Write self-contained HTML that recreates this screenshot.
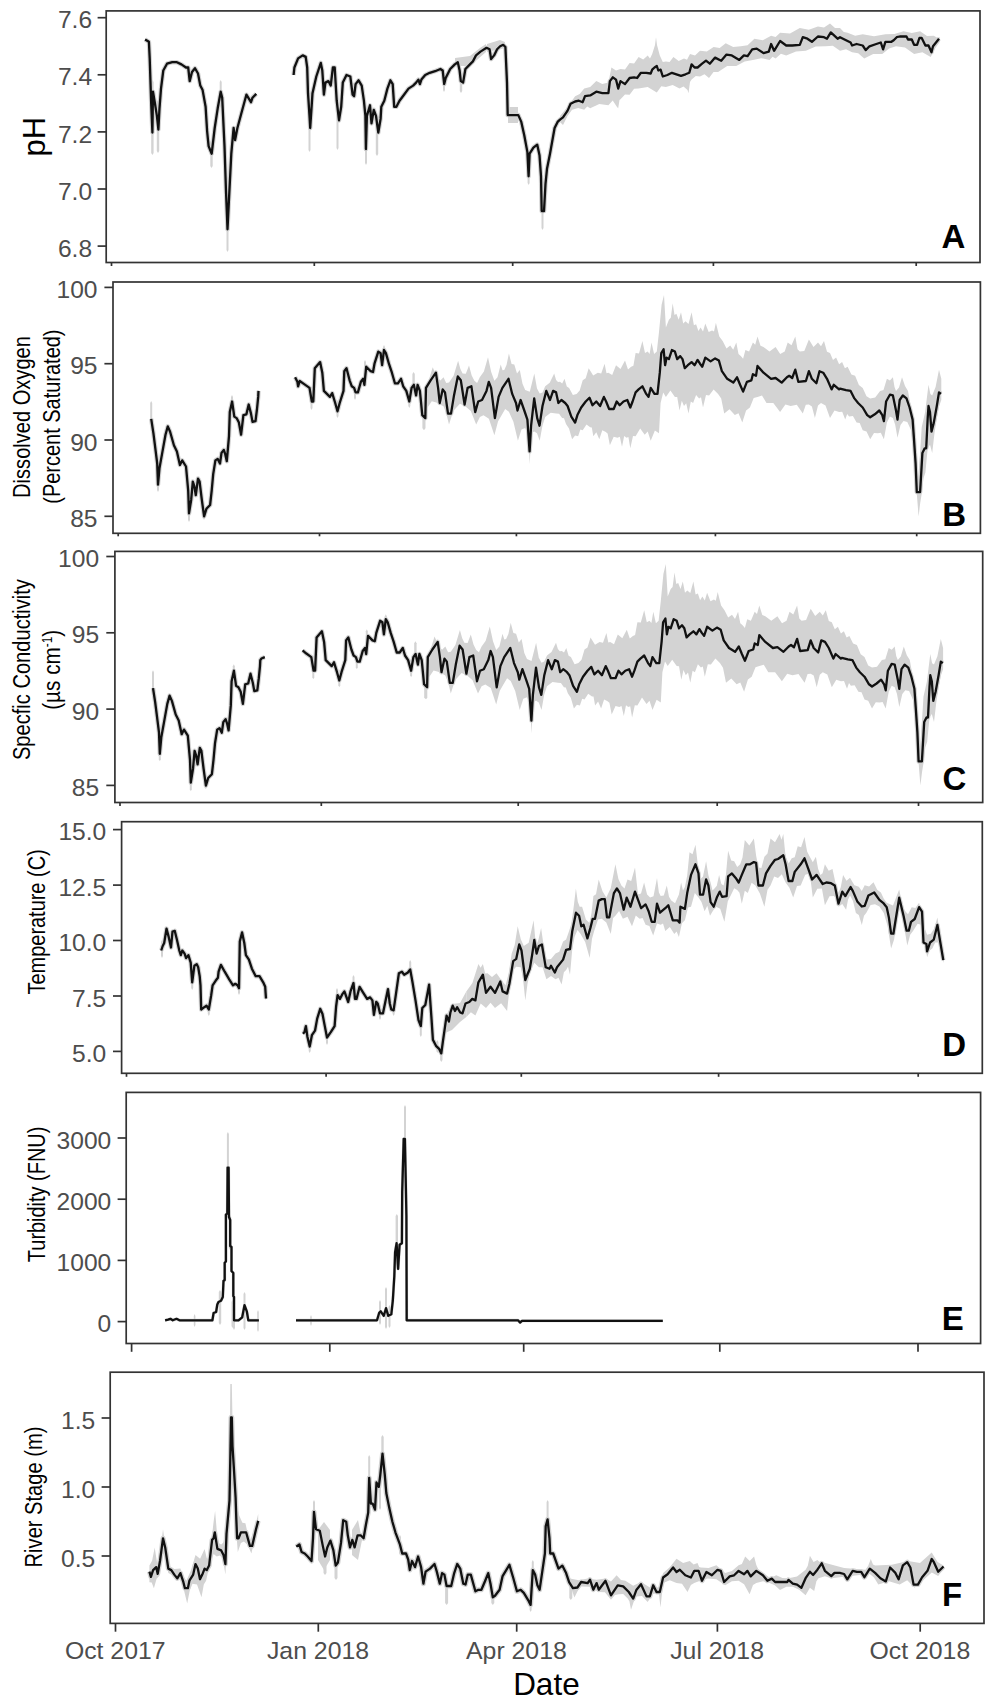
<!DOCTYPE html><html><head><meta charset="utf-8"><style>html,body{margin:0;padding:0;background:#fff;}svg{display:block;}text{font-family:"Liberation Sans", sans-serif;}</style></head><body>
<svg width="992" height="1708" viewBox="0 0 992 1708">
<rect x="0" y="0" width="992" height="1708" fill="#fff"/>
<polygon fill="#d3d3d3" points="560,116 567.5,107 575.1,96.2 579.7,94.1 584.2,88.6 590.2,87 596.3,81.1 602.3,84.1 608.4,82.6 611.4,67.5 616,70.5 620.5,69 625,69.6 629.6,62.9 634.1,63.4 638.6,56.9 643.2,59.5 647.7,55.4 650,58.4 652.2,53.9 655,45 656,37.2 657,45 659.8,55.4 662.8,62 665.9,61.4 669.6,62.1 673.4,56.9 678.7,61.1 684,58.4 687,59.7 690,53.9 695,55.4 700,50.8 706.8,51.4 713.6,47 719.7,48.1 725.7,43.3 733.2,47.1 740.8,46.3 747.6,45.2 754.4,38.7 762.8,40.3 771.1,35.7 775.6,37 780.1,32.7 790,33.4 799.8,28.1 808.8,29.8 817.9,26.6 824,27.5 830,23.6 835,27.9 840,28.1 843.8,32.1 847.6,32.7 855.2,35.7 862.7,34.2 874,36.3 885.4,34.2 894.5,34.1 903.5,31.2 911.8,32.9 920.1,31.2 927,35.9 933.8,35.7 936.8,37.5 939.8,37.2 939.8,41.8 935.2,48.2 930.7,56.9 922.4,52.2 914.1,53.9 905,47.4 896,46.3 889.1,48.4 882.3,53.9 873.2,53.9 864.2,58.4 858.2,53.2 852.1,52.3 846,49.3 840,50.8 832.8,45.7 825.5,46.3 815.7,46.5 805.9,50.8 796,51.5 786.2,55.4 780.9,53.8 775.6,58.4 772.6,56.8 769.6,59.9 761.2,58.2 752.9,59.9 744.6,61.5 736.3,66 727.2,66.1 718.1,72 713.5,71.9 709,78 704.5,74.2 700,76.5 695.8,75.9 691.6,79.6 690,82 688.5,93.2 687.5,90 683.5,86.4 679.5,88.6 672.7,84.9 665.9,87.1 661.3,86.2 656.8,92.4 647.7,87 638.6,88.6 634.1,88.8 629.6,94.7 625,94.4 620.5,99.2 619.5,100 618.2,108.3 617,107 612.7,100.4 608.4,105.3 599.3,103.9 590.2,108.3 587.2,106.4 584.2,109.8 578.2,108 572.1,109.8 567.5,116 563,124.9 560,122"/>
<polygon fill="#d3d3d3" points="508,107 518,107 518,123 508,123"/>
<polygon fill="#d3d3d3" points="487,44 500,40 505,42 505,48 487,52"/>
<polygon fill="#d3d3d3" points="455,58 470,56 480,48 486,44 486,52 470,66 455,66"/>
<polygon fill="#d3d3d3" points="152.4,80 153.6,82 153.6,153 152.4,155 151.2,153 151.2,82"/>
<polygon fill="#d3d3d3" points="158,100 159.2,102 159.2,151 158,153 156.8,151 156.8,102"/>
<polygon fill="#d3d3d3" points="211.5,140 212.7,142 212.7,166 211.5,168 210.3,166 210.3,142"/>
<polygon fill="#d3d3d3" points="227.5,190 228.5,192 228.5,250 227.5,252 226.5,250 226.5,192"/>
<polygon fill="#d3d3d3" points="233,130 234,132 234,146 233,148 232,146 232,132"/>
<polygon fill="#d3d3d3" points="220.7,80 221.7,82 221.7,93 220.7,95 219.7,93 219.7,82"/>
<polygon fill="#d3d3d3" points="309.5,110 310.5,112 310.5,150 309.5,152 308.5,150 308.5,112"/>
<polygon fill="#d3d3d3" points="337.5,110 338.5,112 338.5,148 337.5,150 336.5,148 336.5,112"/>
<polygon fill="#d3d3d3" points="366,140 367,142 367,163 366,165 365,163 365,142"/>
<polygon fill="#d3d3d3" points="377,120 378.2,122 378.2,154 377,156 375.8,154 375.8,122"/>
<polygon fill="#d3d3d3" points="444,80 445,82 445,90 444,92 443,90 443,82"/>
<polygon fill="#d3d3d3" points="461,75 462.2,77 462.2,91 461,93 459.8,91 459.8,77"/>
<polygon fill="#d3d3d3" points="528.6,160 529.6,162 529.6,183 528.6,185 527.6,183 527.6,162"/>
<polygon fill="#d3d3d3" points="542.5,200 543.5,202 543.5,228 542.5,230 541.5,228 541.5,202"/>
<polyline fill="none" stroke="#d3d3d3" stroke-width="4.5" stroke-linejoin="round" points="145.1,39.5 148.9,41.8 149.7,58.4 151.2,103.8 152.4,132.5 153,91.7 155,103.8 156.9,115.9 158.4,129.5 159.5,108.3 161,88.6 163.3,70.5 167,63.7 172.3,62.2 176.9,62.2 181.4,64.4 186,67.5 188.2,67.5 189.7,81.1 192,72 195,68.2 198,73.5 200.3,85.6 202.6,90.1 205.6,106.8 207.1,131 208.6,146.1 211.7,153.7 214.7,128 217.7,108.3 220.7,91.7 222.2,97.7 224.5,146.1 226,191.5 227.5,229.3 229,199 231.3,153.7 233.6,128 235.1,140 237.4,128 241.9,111.3 246.4,94.7 251,102.2 252.5,97.7 256.3,93.9"/>
<polyline fill="none" stroke="#d3d3d3" stroke-width="4.5" stroke-linejoin="round" points="293.6,75 294.4,67.5 298.1,58.4 302.7,55.4 305.7,56.9 307.2,67.5 308,93.2 309.5,115.9 310.2,128 311.5,108.3 312.5,93.2 316.3,76.5 320.8,62.9 322.3,70.5 323.9,94.7 325.4,82.6 328.4,81.1 330.7,85.6 332.9,67.5 334.7,67.5 336.7,100.7 339,120.4 341.2,106.8 342.8,82.6 346.5,75 350.3,76.5 352.6,94.7 354.1,96.2 355.6,84.1 358.6,80.3 361.7,85.6 363.9,100.7 365.4,115.9 365.9,149.1 366.9,115.9 370,105.3 371.5,123.4 373.8,109.8 376,115.9 378.3,132.5 380.6,118.9 381.3,106.8 384.3,100.7 387.4,88.6 390.4,80.3 392.7,84.1 394.2,106.8 396.4,106.8 399.5,100.7 404,94.7 408.5,88.6 413.1,85.6 416.1,82.6 418.4,79.6 419.9,84.1 421.4,79.6 425.2,75 429.7,72.8 435.1,71.2 440.4,69 442.7,70.5 444.2,84.1 445.7,78 450.2,69 454.8,64.4 457.8,62.2 459.6,70.5 460.8,81.1 463.1,82.6 465.4,69 469.9,64.4 472.9,61.4 476,55.4 480.5,51.6 486.5,47.8 489.6,49.3 491.1,59.1 494.1,55.4 497.1,49.3 500.1,46.3 503.2,44.8 505.4,47 507,82.6 507.7,115.1 518.3,115.1 521.3,121.9 524.3,135.5 527.4,152.1 528.6,176.3 529.6,153.7 533.4,147.6 537.2,144.6 539.5,155.2 541,176.3 541.7,211.1 544,211.1 545.5,183.9 547,168.8 550,153.7 554.6,128 557.6,121.9 560,119.6 563,117.4 567.6,110.6 570.6,103.8 575.1,101.5 578.9,100.7 582.7,102.2 585,96.2 590.2,95.4 596.3,91.7 602.3,93.2 608.4,93.2 609.9,81.1 612.9,77.3 616,79.6 618.2,88.6 620.5,81.1 625,84.1 629.6,78 634.1,77.3 637.1,78 640.9,72.8 646.2,72.8 650.7,73.5 652.2,69.7 654.5,67.5 656.8,66 658.3,70.5 660.6,69.7 662.8,76.5 667.4,75 671.9,72.8 676.4,74.3 681,75.8 685.5,74.3 689.3,72.8 691.6,64.4 694.6,67.5 697.6,67.5 702.1,63.7 706,60.7 709.8,63.7 715.1,57.6 721.2,60.7 726.5,54.6 731.8,55.4 739.3,59.9 743.9,55.4 747.6,56.1 752.2,49.3 756.7,48.6 763.5,53.1 768.8,51.6 771.1,44 774.1,50.8 780.1,41 786.2,45.5 792.2,45.5 799.8,44.8 802.8,37.2 807.4,38.7 811.9,41.8 817.9,36.5 824,37.2 827,38.7 830.8,32.4 837.6,38.7 840,37.2 844.5,39.5 850.6,42.5 852.1,45.5 856.6,44 862.7,45.5 865.7,50.1 869.5,46.3 876.3,44 880.8,42.5 883.1,49.3 885.4,41.8 891.4,41.8 893.7,40.2 896.7,37.2 899.7,36.5 906.5,36.5 908,39.5 911.8,39.5 914.1,44.8 917.1,44.8 919.4,38 921.7,38 925.4,45.5 928.5,45.5 931.5,52.3 933,46.3 939,38.7"/>
<polyline fill="none" stroke="#111" stroke-width="2.3" stroke-linejoin="round" points="145.1,39.5 148.9,41.8 149.7,58.4 151.2,103.8 152.4,132.5 153,91.7 155,103.8 156.9,115.9 158.4,129.5 159.5,108.3 161,88.6 163.3,70.5 167,63.7 172.3,62.2 176.9,62.2 181.4,64.4 186,67.5 188.2,67.5 189.7,81.1 192,72 195,68.2 198,73.5 200.3,85.6 202.6,90.1 205.6,106.8 207.1,131 208.6,146.1 211.7,153.7 214.7,128 217.7,108.3 220.7,91.7 222.2,97.7 224.5,146.1 226,191.5 227.5,229.3 229,199 231.3,153.7 233.6,128 235.1,140 237.4,128 241.9,111.3 246.4,94.7 251,102.2 252.5,97.7 256.3,93.9"/>
<polyline fill="none" stroke="#111" stroke-width="2.3" stroke-linejoin="round" points="293.6,75 294.4,67.5 298.1,58.4 302.7,55.4 305.7,56.9 307.2,67.5 308,93.2 309.5,115.9 310.2,128 311.5,108.3 312.5,93.2 316.3,76.5 320.8,62.9 322.3,70.5 323.9,94.7 325.4,82.6 328.4,81.1 330.7,85.6 332.9,67.5 334.7,67.5 336.7,100.7 339,120.4 341.2,106.8 342.8,82.6 346.5,75 350.3,76.5 352.6,94.7 354.1,96.2 355.6,84.1 358.6,80.3 361.7,85.6 363.9,100.7 365.4,115.9 365.9,149.1 366.9,115.9 370,105.3 371.5,123.4 373.8,109.8 376,115.9 378.3,132.5 380.6,118.9 381.3,106.8 384.3,100.7 387.4,88.6 390.4,80.3 392.7,84.1 394.2,106.8 396.4,106.8 399.5,100.7 404,94.7 408.5,88.6 413.1,85.6 416.1,82.6 418.4,79.6 419.9,84.1 421.4,79.6 425.2,75 429.7,72.8 435.1,71.2 440.4,69 442.7,70.5 444.2,84.1 445.7,78 450.2,69 454.8,64.4 457.8,62.2 459.6,70.5 460.8,81.1 463.1,82.6 465.4,69 469.9,64.4 472.9,61.4 476,55.4 480.5,51.6 486.5,47.8 489.6,49.3 491.1,59.1 494.1,55.4 497.1,49.3 500.1,46.3 503.2,44.8 505.4,47 507,82.6 507.7,115.1 518.3,115.1 521.3,121.9 524.3,135.5 527.4,152.1 528.6,176.3 529.6,153.7 533.4,147.6 537.2,144.6 539.5,155.2 541,176.3 541.7,211.1 544,211.1 545.5,183.9 547,168.8 550,153.7 554.6,128 557.6,121.9 560,119.6 563,117.4 567.6,110.6 570.6,103.8 575.1,101.5 578.9,100.7 582.7,102.2 585,96.2 590.2,95.4 596.3,91.7 602.3,93.2 608.4,93.2 609.9,81.1 612.9,77.3 616,79.6 618.2,88.6 620.5,81.1 625,84.1 629.6,78 634.1,77.3 637.1,78 640.9,72.8 646.2,72.8 650.7,73.5 652.2,69.7 654.5,67.5 656.8,66 658.3,70.5 660.6,69.7 662.8,76.5 667.4,75 671.9,72.8 676.4,74.3 681,75.8 685.5,74.3 689.3,72.8 691.6,64.4 694.6,67.5 697.6,67.5 702.1,63.7 706,60.7 709.8,63.7 715.1,57.6 721.2,60.7 726.5,54.6 731.8,55.4 739.3,59.9 743.9,55.4 747.6,56.1 752.2,49.3 756.7,48.6 763.5,53.1 768.8,51.6 771.1,44 774.1,50.8 780.1,41 786.2,45.5 792.2,45.5 799.8,44.8 802.8,37.2 807.4,38.7 811.9,41.8 817.9,36.5 824,37.2 827,38.7 830.8,32.4 837.6,38.7 840,37.2 844.5,39.5 850.6,42.5 852.1,45.5 856.6,44 862.7,45.5 865.7,50.1 869.5,46.3 876.3,44 880.8,42.5 883.1,49.3 885.4,41.8 891.4,41.8 893.7,40.2 896.7,37.2 899.7,36.5 906.5,36.5 908,39.5 911.8,39.5 914.1,44.8 917.1,44.8 919.4,38 921.7,38 925.4,45.5 928.5,45.5 931.5,52.3 933,46.3 939,38.7"/>
<rect x="106.2" y="10.9" width="873.8" height="251.6" fill="none" stroke="#333" stroke-width="1.7"/>
<line x1="97.6" y1="17.7" x2="106.2" y2="17.7" stroke="#333" stroke-width="1.7"/>
<text x="92.1" y="28.3" font-size="24.6" fill="#4d4d4d" text-anchor="end">7.6</text>
<line x1="97.6" y1="74.8" x2="106.2" y2="74.8" stroke="#333" stroke-width="1.7"/>
<text x="92.1" y="85.4" font-size="24.6" fill="#4d4d4d" text-anchor="end">7.4</text>
<line x1="97.6" y1="131.9" x2="106.2" y2="131.9" stroke="#333" stroke-width="1.7"/>
<text x="92.1" y="142.5" font-size="24.6" fill="#4d4d4d" text-anchor="end">7.2</text>
<line x1="97.6" y1="189" x2="106.2" y2="189" stroke="#333" stroke-width="1.7"/>
<text x="92.1" y="199.6" font-size="24.6" fill="#4d4d4d" text-anchor="end">7.0</text>
<line x1="97.6" y1="246.1" x2="106.2" y2="246.1" stroke="#333" stroke-width="1.7"/>
<text x="92.1" y="256.7" font-size="24.6" fill="#4d4d4d" text-anchor="end">6.8</text>
<line x1="111.5" y1="262.5" x2="111.5" y2="266" stroke="#333" stroke-width="1.7"/>
<line x1="314.3" y1="262.5" x2="314.3" y2="266" stroke="#333" stroke-width="1.7"/>
<line x1="512.7" y1="262.5" x2="512.7" y2="266" stroke="#333" stroke-width="1.7"/>
<line x1="713.4" y1="262.5" x2="713.4" y2="266" stroke="#333" stroke-width="1.7"/>
<line x1="916.2" y1="262.5" x2="916.2" y2="266" stroke="#333" stroke-width="1.7"/>
<text x="941.4" y="248" font-size="33" font-weight="bold" fill="#000">A</text>
<polygon fill="#d3d3d3" points="427.2,384.4 429.9,376.4 432.7,367.2 434.9,372.2 437.2,377.2 440.4,380.6 443.5,377.2 446.2,383.1 449,382.6 453.6,375.7 458.1,360.8 460.4,369 462.6,373.5 465.8,373.7 469,365.4 471.7,375.4 474.4,380.8 477.1,383 479.8,377.2 483.9,371.5 488,357.2 491.2,372 494.4,380.8 497.5,377.2 500.7,364.5 502.5,370.3 504.3,369.9 506.6,364.7 508.9,353.6 511.6,363.9 514.3,364.5 517,373.4 519.8,369.9 522.5,383.7 525.2,389.9 529.8,391.8 534.3,373.5 537,388.5 539.7,393.5 542.5,392.4 545.2,386.3 549.7,382.8 554.2,373.5 556.1,379.9 558,382 560,381.8 562.2,383.4 564.5,378.8 566.8,386.6 569.1,387.9 572.9,395.1 576.6,393.9 579.7,390.6 582.7,380.3 585.7,378.3 588.7,368.2 593.2,375.6 597.8,372.7 601.2,373.5 604.6,363.7 606.5,373.3 608.4,372.7 612.2,375 616,365.2 620.5,369.1 625,360.6 628,369.4 631.1,366.7 633.4,365.8 635.6,353.1 639,353.4 642.4,341 645,353.1 647.7,351.6 649.6,353.9 651.5,342.5 654.1,354 656.8,351.6 659,331.9 661.6,304.7 664,294.9 665.9,327.4 668.9,319.8 670.8,317.8 672.7,303.2 674.5,314.9 676.4,313.8 678.7,319.7 681,312.2 683.2,323.5 685.5,321.3 688.5,323.9 691.6,312.2 693.9,325.2 696.1,324.3 698.4,331.1 700.6,327.4 703,331.4 705.3,323.6 708.7,332 712.1,330.4 714,331.5 715.9,322.8 719.3,336.4 722.7,341 726.5,348.4 730.2,345.5 733.2,349.8 736.3,342.5 738.5,354.1 740.8,356.1 743.1,358.8 745.4,350 749.1,351.5 752.9,342.5 755.2,344.8 757.5,336.4 760.5,345.8 763.5,347 769.5,351.6 775.6,347 780.2,354.1 784.7,351.6 787.7,342.5 791.5,345.2 795.3,336.4 797.5,349.2 799.8,351.6 804.3,350.9 808.9,339.5 813.5,346.9 818,342.5 821,346.3 824,341 827,351.8 830,353.1 833,360 836.1,357.6 839.1,364.3 842.1,362.1 844.9,368.2 847.6,366.7 851.4,374.4 855.1,375.8 858.9,385.1 862.7,387.9 866.5,396.3 870.2,398.4 875.2,397.6 880.1,390.9 883.5,390.1 886.9,378.8 889.9,380.5 892.9,377.3 894.5,386.9 896,390.9 899,387.4 902,377.3 905,386.1 908,390.9 910.3,404.1 912.6,415.1 914.9,452.9 917.1,490.7 919.4,463.9 921.7,427.2 925.1,412.3 928.5,384.8 930.4,394.1 932.2,395.4 935.6,387.1 939,369.7 941.3,378.8 941.3,400 939,406.6 936.8,418.1 934.5,433 932.2,452.9 930,444.8 927.7,448.3 925.4,472.5 923.5,478.2 921.7,493.7 920.2,503 918.6,516.4 915.6,478.6 913.4,450.8 911.1,430.2 907.3,421.9 903.5,421.1 900.5,424.9 897.5,437.8 895.2,424.7 892.9,418.1 889.9,416.5 886.9,422.6 883.9,439.3 880.8,432.7 877.8,433.2 874,433 870.2,439.3 866.5,431.6 862.7,430.2 859.7,423.1 856.6,422.6 852.9,416 849.1,416.6 847.2,413.9 845.2,419.6 842.2,411.8 839.1,412 834.5,410.6 830,418.1 825.5,405.4 821,403 818,405.6 814.9,418.1 811.9,406.4 808.9,404.5 805.8,404.8 802.8,413.6 796.8,404.7 790.7,406 785.4,404.5 780.1,412 773.3,403.1 766.5,403 762,395.6 757.5,396.9 753.7,398.1 749.9,407.5 746.1,410.4 742.3,422.6 738.5,413.2 734.8,415.1 729.5,409.2 724.2,413.6 721.2,398.5 718.1,393.9 713.6,389.4 709.1,395.4 706,395 703,407.5 701,397.3 699.1,398.4 696.1,395 693.1,403 690.8,401.5 688.5,413.6 686.2,403.3 684,406 681.8,400.7 679.5,410.5 677.2,397 674.9,396.9 670.4,390.5 665.9,396.9 663.2,392.4 660.6,403 659,433.2 654.9,430.5 650.7,440.8 647.7,431.5 644.7,434.7 640.2,428.4 635.6,436.2 633,436 630.3,448.3 628.4,437 626.5,437.8 624.2,436.1 622,446.8 619.8,436.7 617.5,437.8 613.7,436.7 609.9,445.3 607.6,433.5 605.4,431.7 602.3,430.3 599.3,439.3 596.3,432.3 593.3,436.2 591.8,427.4 590.2,427.2 586.5,424.5 582.7,430.2 580.4,429.6 578.1,436.2 575.1,435.5 572.1,439.3 569,428.5 566,424.1 564,418.2 562.1,418.1 559.1,413.8 556.1,413.5 550.7,412.7 545.2,417.1 542.5,425.5 539.7,440.7 537,433.2 534.3,431.6 532.6,432.2 531,440 529.7,464.3 528.5,440 526.9,431.6 525.2,428 521.5,429.6 517.9,440.7 513.4,421.8 508.9,411.7 505.2,409 501.6,415.3 498,421.5 494.4,435.2 488.9,418.8 483.5,415.3 479.9,417 476.2,424.4 470.8,411 465.3,406.2 459.9,403.7 454.4,409.8 451.7,415.9 449,424.4 446.2,413.2 443.5,406.2 439.9,404.4 436.3,402.6 431.8,401.3 427.2,408"/>
<polygon fill="#d3d3d3" points="151.2,401 152.2,403 152.2,423 151.2,425 150.2,423 150.2,403"/>
<polygon fill="#d3d3d3" points="158,470 159,472 159,490 158,492 157,490 157,472"/>
<polygon fill="#d3d3d3" points="189,500 190,502 190,520 189,522 188,520 188,502"/>
<polygon fill="#d3d3d3" points="204,505 205,507 205,518 204,520 203,518 203,507"/>
<polygon fill="#d3d3d3" points="232,395 233,397 233,408 232,410 231,408 231,397"/>
<polygon fill="#d3d3d3" points="311.5,395 312.5,397 312.5,408 311.5,410 310.5,408 310.5,397"/>
<polygon fill="#d3d3d3" points="337.5,400 338.5,402 338.5,416 337.5,418 336.5,416 336.5,402"/>
<polygon fill="#d3d3d3" points="365,360 366,362 366,370 365,372 364,370 364,362"/>
<polygon fill="#d3d3d3" points="384,345 385,347 385,358 384,360 383,358 383,347"/>
<polygon fill="#d3d3d3" points="409.3,390 410.3,392 410.3,406 409.3,408 408.3,406 408.3,392"/>
<polygon fill="#d3d3d3" points="424.5,405 425.5,407 425.5,428 424.5,430 423.5,428 423.5,407"/>
<polygon fill="#d3d3d3" points="355,385 356,387 356,398 355,400 354,398 354,387"/>
<polygon fill="#d3d3d3" points="413.6,372 414.8,374 414.8,384 413.6,386 412.4,384 412.4,374"/>
<polygon fill="#d3d3d3" points="423.6,412 424.8,414 424.8,428 423.6,430 422.4,428 422.4,414"/>
<polyline fill="none" stroke="#d3d3d3" stroke-width="4.5" stroke-linejoin="round" points="151.2,418.9 153.4,433.2 155.7,451.4 157.2,463.5 158,484.6 159.5,468 162.5,451.4 165.5,434.7 167.8,426.4 170.1,431.7 173.9,445.3 176.9,451.4 179.9,465 182.2,460.4 186,466.5 188.2,490.7 189,513.4 191.2,499.7 192.8,481.6 194.3,486.1 195.8,495.2 198,478.6 199.6,481.6 201.8,499.7 204.1,516.4 206.4,508.8 210.1,505 211.7,490.7 213.2,474.1 215.4,460.4 217.7,458.9 220,463.5 221.5,452.9 223.8,449.9 225.3,454.4 226.8,461.2 229,436.2 229.8,412 232.1,401.5 234.3,416.6 236.6,418.1 238.9,422.6 241.1,434.7 243.4,415.1 246.4,414.3 248.7,404.5 251,413.6 252.5,421.9 255.5,421.1 257,409 258.2,396.9 258.5,390.9"/>
<polyline fill="none" stroke="#d3d3d3" stroke-width="4.5" stroke-linejoin="round" points="295.1,377.3 297.4,381.8 298.1,386.3 299.7,381 304.2,384.1 309.5,387.9 311.8,401.5 313.3,401.5 314.8,368.2 320.1,362.1 322.3,372.7 323.9,390.9 326.9,393.9 329.9,396.9 332.2,393.1 335.2,403 337.5,411.3 339.7,403 343.5,390.9 344.3,371.2 346.5,368.2 349.6,380.3 351.8,386.3 354.1,387.9 355.6,392.4 357.9,392.4 360.9,381.8 363.2,378.8 364.4,384.8 366.2,366.7 370.7,371.2 373,372 374.5,363.7 378.3,351.6 380.6,353.1 382.1,365.2 384,350 385.9,353.1 388.9,363.7 391.9,372.7 394.9,383.3 397.9,383.3 401,378.8 403.2,386.3 406.3,390.9 409.3,401.5 411.6,387.9 413.8,384.8 416.1,395.4 417.6,384.8 419.9,390.9 422.3,415.1 425.3,418.1 426,387.9 430.6,380.3 435.9,372.7 438.1,387.9 439.7,403 442.7,389.4 445,392.4 448,413.6 451,413.6 454,395.4 457.8,376.5 460.8,380.3 464.6,404.5 467.6,387.9 471.4,386.3 475.2,412.1 478.2,401.5 482,400 486.5,390.9 488.8,381.8 491.1,387.9 494.9,418.1 498.6,396.9 502.4,387.9 508.5,378.8 512.2,393.9 516,403 517.5,410.5 520.6,400 524.3,410.5 527.4,419.6 529.6,451.4 531.1,425.7 534.2,398.4 537.2,418.1 539.5,425.7 542.5,406 546.3,390.9 550,400 553.1,390.9 556.1,392.4 558.4,403 561.4,400 565.2,403 567.6,406 571.3,416.6 575.1,422.6 577.4,415.1 581.2,407.5 585.7,401.5 589.5,397.7 592.5,405.2 596.3,401.5 600.1,406 603.9,396.9 606.1,401.5 609.1,409 613.7,409 616.7,401.5 619.7,405.2 623.5,401.5 627.3,400 630.3,407.5 632.6,401.5 635.6,392.4 638.6,389.4 642.4,386.3 646.2,393.9 648.5,396.9 650.7,387.9 654.5,393.9 657.5,393.9 659.8,372.7 661.3,353.1 663.6,349.3 665.1,365.2 666.6,357.6 668.9,359.1 671.9,350 674.9,351.6 677.2,359.1 680.2,356.1 682.5,359.1 684.8,368.2 687.8,365.2 691.6,362.1 694.6,365.2 697.6,359.9 700,363.7 702.3,366.7 705.3,357.6 710.6,361.4 715.1,358.4 718.9,360.6 721.9,371.2 727.2,378.8 733.3,382.6 737,377.3 740.1,384.8 743.1,391.6 746.9,381.8 751.4,380.3 752.9,374.2 756,375.8 757.5,365.9 763.5,372.7 771.1,378.8 775.6,378 781.7,382.6 786.9,377.3 789.2,375.8 792.2,378 795.3,369.7 798.3,381.8 805.9,381 808.9,371.2 811.9,378.8 816.4,383.3 819.5,371.2 823.2,372.7 827,378.8 831.6,389.4 833.8,384.8 839.1,389.4 840,388.6 846,390.1 850.6,390.9 854.4,398.4 858.1,403 862.7,407.5 867.2,415.1 870.2,417.3 874.8,414.3 879.3,410.5 882.3,415.1 883.9,421.1 886.1,401.5 889.9,394.7 892.9,395.4 896,410.5 897.5,419.6 899.7,400 902.8,395.4 906.5,398.4 909.6,407.5 912.6,419.6 914.1,440.8 915.6,463.5 916.8,492.2 920.1,492.2 920.9,478.6 922.4,452.9 924.7,448.3 926.2,448.3 927.7,418.1 928.5,406 930,412 931.5,431.7 933.8,422.6 936.8,406 939,392.4 941,393.9"/>
<polyline fill="none" stroke="#111" stroke-width="2.3" stroke-linejoin="round" points="151.2,418.9 153.4,433.2 155.7,451.4 157.2,463.5 158,484.6 159.5,468 162.5,451.4 165.5,434.7 167.8,426.4 170.1,431.7 173.9,445.3 176.9,451.4 179.9,465 182.2,460.4 186,466.5 188.2,490.7 189,513.4 191.2,499.7 192.8,481.6 194.3,486.1 195.8,495.2 198,478.6 199.6,481.6 201.8,499.7 204.1,516.4 206.4,508.8 210.1,505 211.7,490.7 213.2,474.1 215.4,460.4 217.7,458.9 220,463.5 221.5,452.9 223.8,449.9 225.3,454.4 226.8,461.2 229,436.2 229.8,412 232.1,401.5 234.3,416.6 236.6,418.1 238.9,422.6 241.1,434.7 243.4,415.1 246.4,414.3 248.7,404.5 251,413.6 252.5,421.9 255.5,421.1 257,409 258.2,396.9 258.5,390.9"/>
<polyline fill="none" stroke="#111" stroke-width="2.3" stroke-linejoin="round" points="295.1,377.3 297.4,381.8 298.1,386.3 299.7,381 304.2,384.1 309.5,387.9 311.8,401.5 313.3,401.5 314.8,368.2 320.1,362.1 322.3,372.7 323.9,390.9 326.9,393.9 329.9,396.9 332.2,393.1 335.2,403 337.5,411.3 339.7,403 343.5,390.9 344.3,371.2 346.5,368.2 349.6,380.3 351.8,386.3 354.1,387.9 355.6,392.4 357.9,392.4 360.9,381.8 363.2,378.8 364.4,384.8 366.2,366.7 370.7,371.2 373,372 374.5,363.7 378.3,351.6 380.6,353.1 382.1,365.2 384,350 385.9,353.1 388.9,363.7 391.9,372.7 394.9,383.3 397.9,383.3 401,378.8 403.2,386.3 406.3,390.9 409.3,401.5 411.6,387.9 413.8,384.8 416.1,395.4 417.6,384.8 419.9,390.9 422.3,415.1 425.3,418.1 426,387.9 430.6,380.3 435.9,372.7 438.1,387.9 439.7,403 442.7,389.4 445,392.4 448,413.6 451,413.6 454,395.4 457.8,376.5 460.8,380.3 464.6,404.5 467.6,387.9 471.4,386.3 475.2,412.1 478.2,401.5 482,400 486.5,390.9 488.8,381.8 491.1,387.9 494.9,418.1 498.6,396.9 502.4,387.9 508.5,378.8 512.2,393.9 516,403 517.5,410.5 520.6,400 524.3,410.5 527.4,419.6 529.6,451.4 531.1,425.7 534.2,398.4 537.2,418.1 539.5,425.7 542.5,406 546.3,390.9 550,400 553.1,390.9 556.1,392.4 558.4,403 561.4,400 565.2,403 567.6,406 571.3,416.6 575.1,422.6 577.4,415.1 581.2,407.5 585.7,401.5 589.5,397.7 592.5,405.2 596.3,401.5 600.1,406 603.9,396.9 606.1,401.5 609.1,409 613.7,409 616.7,401.5 619.7,405.2 623.5,401.5 627.3,400 630.3,407.5 632.6,401.5 635.6,392.4 638.6,389.4 642.4,386.3 646.2,393.9 648.5,396.9 650.7,387.9 654.5,393.9 657.5,393.9 659.8,372.7 661.3,353.1 663.6,349.3 665.1,365.2 666.6,357.6 668.9,359.1 671.9,350 674.9,351.6 677.2,359.1 680.2,356.1 682.5,359.1 684.8,368.2 687.8,365.2 691.6,362.1 694.6,365.2 697.6,359.9 700,363.7 702.3,366.7 705.3,357.6 710.6,361.4 715.1,358.4 718.9,360.6 721.9,371.2 727.2,378.8 733.3,382.6 737,377.3 740.1,384.8 743.1,391.6 746.9,381.8 751.4,380.3 752.9,374.2 756,375.8 757.5,365.9 763.5,372.7 771.1,378.8 775.6,378 781.7,382.6 786.9,377.3 789.2,375.8 792.2,378 795.3,369.7 798.3,381.8 805.9,381 808.9,371.2 811.9,378.8 816.4,383.3 819.5,371.2 823.2,372.7 827,378.8 831.6,389.4 833.8,384.8 839.1,389.4 840,388.6 846,390.1 850.6,390.9 854.4,398.4 858.1,403 862.7,407.5 867.2,415.1 870.2,417.3 874.8,414.3 879.3,410.5 882.3,415.1 883.9,421.1 886.1,401.5 889.9,394.7 892.9,395.4 896,410.5 897.5,419.6 899.7,400 902.8,395.4 906.5,398.4 909.6,407.5 912.6,419.6 914.1,440.8 915.6,463.5 916.8,492.2 920.1,492.2 920.9,478.6 922.4,452.9 924.7,448.3 926.2,448.3 927.7,418.1 928.5,406 930,412 931.5,431.7 933.8,422.6 936.8,406 939,392.4 941,393.9"/>
<rect x="113" y="282" width="867.4" height="251.3" fill="none" stroke="#333" stroke-width="1.7"/>
<line x1="104.4" y1="287.4" x2="113" y2="287.4" stroke="#333" stroke-width="1.7"/>
<text x="97.5" y="298" font-size="24.6" fill="#4d4d4d" text-anchor="end">100</text>
<line x1="104.4" y1="363.7" x2="113" y2="363.7" stroke="#333" stroke-width="1.7"/>
<text x="97.5" y="374.3" font-size="24.6" fill="#4d4d4d" text-anchor="end">95</text>
<line x1="104.4" y1="440" x2="113" y2="440" stroke="#333" stroke-width="1.7"/>
<text x="97.5" y="450.6" font-size="24.6" fill="#4d4d4d" text-anchor="end">90</text>
<line x1="104.4" y1="516.3" x2="113" y2="516.3" stroke="#333" stroke-width="1.7"/>
<text x="97.5" y="526.9" font-size="24.6" fill="#4d4d4d" text-anchor="end">85</text>
<line x1="118.2" y1="533.3" x2="118.2" y2="536.3" stroke="#333" stroke-width="1.7"/>
<line x1="319.5" y1="533.3" x2="319.5" y2="536.3" stroke="#333" stroke-width="1.7"/>
<line x1="516.4" y1="533.3" x2="516.4" y2="536.3" stroke="#333" stroke-width="1.7"/>
<line x1="715.4" y1="533.3" x2="715.4" y2="536.3" stroke="#333" stroke-width="1.7"/>
<line x1="916.7" y1="533.3" x2="916.7" y2="536.3" stroke="#333" stroke-width="1.7"/>
<text x="942.2" y="525.9" font-size="33" font-weight="bold" fill="#000">B</text>
<polygon fill="#d3d3d3" points="429,653.6 431.8,645.6 434.5,636.4 436.8,641.4 439,646.4 442.1,649.8 445.3,646.4 448.1,652.3 450.8,651.8 455.4,644.9 459.9,630 462.2,638.2 464.4,642.7 467.6,642.9 470.8,634.6 473.5,644.6 476.2,650 478.9,652.2 481.6,646.4 485.7,640.7 489.8,626.4 493,641.2 496.2,650 499.4,646.4 502.5,633.7 504.3,639.5 506.1,639.1 508.4,633.9 510.7,622.8 513.4,633.1 516.1,633.7 518.8,642.6 521.6,639.1 524.3,652.9 527,659.1 531.5,661 536.1,642.7 538.8,657.7 541.5,662.7 544.2,661.6 547,655.5 551.5,652 556,642.7 557.9,649.1 559.8,651.2 561.8,651 564,652.6 566.3,648 568.6,655.8 570.9,657.1 574.6,664.3 578.4,663.1 581.5,659.8 584.5,649.5 587.5,647.5 590.5,637.4 595,644.8 599.6,641.9 603,642.7 606.4,632.9 608.3,642.5 610.2,641.9 614,644.2 617.8,634.4 622.3,638.3 626.8,629.8 629.8,638.6 632.9,635.9 635.1,635 637.4,622.3 640.8,622.6 644.2,610.2 646.8,622.3 649.5,620.8 651.4,623.1 653.3,611.7 655.9,623.2 658.6,620.8 660.8,601.1 663.4,573.9 665.8,564.1 667.7,596.6 670.7,589 672.6,587 674.5,572.4 676.3,584.1 678.2,583 680.5,588.9 682.8,581.4 685,592.7 687.3,590.5 690.3,593.1 693.4,581.4 695.6,594.4 697.9,593.5 700.1,600.3 702.4,596.6 704.8,600.6 707.1,592.8 710.5,601.2 713.9,599.6 715.8,600.7 717.7,592 721.1,605.6 724.5,610.2 728.2,617.6 732,614.7 735,619 738.1,611.7 740.3,623.3 742.6,625.3 744.9,628 747.2,619.2 750.9,620.7 754.7,611.7 757,614 759.3,605.6 762.3,615 765.3,616.2 771.3,620.8 777.4,616.2 782,623.3 786.5,620.8 789.5,611.7 793.3,614.4 797.1,605.6 799.3,618.4 801.6,620.8 806.1,620.1 810.7,608.7 815.2,616.1 819.8,611.7 822.8,615.5 825.8,610.2 828.8,621 831.8,622.3 834.8,629.2 837.9,626.8 840.9,633.5 843.9,631.3 846.6,637.4 849.4,635.9 853.1,643.6 856.9,645 860.7,654.3 864.5,657.1 868.2,665.5 872,667.6 877,666.8 881.9,660.1 885.3,659.3 888.7,648 891.7,649.7 894.7,646.5 896.2,656.1 897.8,660.1 900.8,656.6 903.8,646.5 906.8,655.3 909.8,660.1 912.1,673.3 914.4,684.3 916.6,722.1 918.9,759.9 921.2,733.1 923.5,696.4 926.9,681.5 930.3,654 932.1,663.3 934,664.6 937.4,656.3 940.8,638.9 943.1,648 943.1,669.2 940.8,675.8 938.6,687.3 936.3,702.2 934,722.1 931.8,714 929.5,717.5 927.2,741.7 925.3,747.4 923.5,762.9 922,772.2 920.4,785.6 917.4,747.8 915.1,720 912.9,699.4 909.1,691.1 905.3,690.3 902.3,694.1 899.3,707 897,693.9 894.7,687.3 891.7,685.7 888.7,691.8 885.7,708.5 882.6,701.9 879.6,702.4 875.8,702.2 872,708.5 868.2,700.8 864.5,699.4 861.5,692.3 858.4,691.8 854.6,685.2 850.9,685.8 849,683.1 847,688.8 844,681 840.9,681.2 836.3,679.8 831.8,687.3 827.3,674.6 822.8,672.2 819.8,674.8 816.7,687.3 813.7,675.6 810.7,673.7 807.6,674 804.6,682.8 798.5,673.9 792.5,675.2 787.2,673.7 781.9,681.2 775.1,672.3 768.3,672.2 763.8,664.8 759.3,666.1 755.5,667.3 751.7,676.7 747.9,679.6 744.1,691.8 740.3,682.4 736.6,684.3 731.3,678.4 726,682.8 723,667.7 719.9,663.1 715.4,658.6 710.9,664.6 707.8,664.2 704.8,676.7 702.8,666.5 700.9,667.6 697.9,664.2 694.9,672.2 692.6,670.7 690.3,682.8 688,672.5 685.8,675.2 683.5,669.9 681.3,679.7 679,666.2 676.7,666.1 672.2,659.7 667.7,666.1 665,661.6 662.4,672.2 660.8,702.4 656.6,699.7 652.5,710 649.5,700.7 646.5,703.9 642,697.6 637.4,705.4 634.8,705.2 632.1,717.5 630.2,706.2 628.3,707 626,705.3 623.8,716 621.5,705.9 619.3,707 615.5,705.9 611.7,714.5 609.4,702.7 607.2,700.9 604.1,699.5 601.1,708.5 598.1,701.5 595.1,705.4 593.5,696.6 592,696.4 588.2,693.7 584.5,699.4 582.2,698.8 579.9,705.4 576.9,704.7 573.9,708.5 570.8,697.7 567.8,693.3 565.8,687.4 563.9,687.3 560.9,683 557.9,682.7 552.5,681.9 547,686.3 544.2,694.7 541.5,709.9 538.8,702.4 536.1,700.8 534.4,701.4 532.8,709.2 531.5,733.5 530.3,709.2 528.6,700.8 527,697.2 523.3,698.8 519.7,709.9 515.2,691 510.7,680.9 507.1,678.2 503.4,684.5 499.8,690.7 496.2,704.4 490.8,688 485.3,684.5 481.6,686.2 478,693.6 472.6,680.2 467.1,675.4 461.6,672.9 456.2,679 453.5,685.1 450.8,693.6 448.1,682.4 445.3,675.4 441.7,673.6 438.1,671.8 433.6,670.5 429,677.2"/>
<polygon fill="#d3d3d3" points="153,670.2 154,672.2 154,692.2 153,694.2 152,692.2 152,672.2"/>
<polygon fill="#d3d3d3" points="159.8,739.2 160.8,741.2 160.8,759.2 159.8,761.2 158.8,759.2 158.8,741.2"/>
<polygon fill="#d3d3d3" points="190.8,769.2 191.8,771.2 191.8,789.2 190.8,791.2 189.8,789.2 189.8,771.2"/>
<polygon fill="#d3d3d3" points="205.8,774.2 206.8,776.2 206.8,787.2 205.8,789.2 204.8,787.2 204.8,776.2"/>
<polygon fill="#d3d3d3" points="233.8,664.2 234.8,666.2 234.8,677.2 233.8,679.2 232.8,677.2 232.8,666.2"/>
<polygon fill="#d3d3d3" points="313.3,664.2 314.3,666.2 314.3,677.2 313.3,679.2 312.3,677.2 312.3,666.2"/>
<polygon fill="#d3d3d3" points="339.3,669.2 340.3,671.2 340.3,685.2 339.3,687.2 338.3,685.2 338.3,671.2"/>
<polygon fill="#d3d3d3" points="366.8,629.2 367.8,631.2 367.8,639.2 366.8,641.2 365.8,639.2 365.8,631.2"/>
<polygon fill="#d3d3d3" points="385.8,614.2 386.8,616.2 386.8,627.2 385.8,629.2 384.8,627.2 384.8,616.2"/>
<polygon fill="#d3d3d3" points="411.1,659.2 412.1,661.2 412.1,675.2 411.1,677.2 410.1,675.2 410.1,661.2"/>
<polygon fill="#d3d3d3" points="426.3,674.2 427.3,676.2 427.3,697.2 426.3,699.2 425.3,697.2 425.3,676.2"/>
<polygon fill="#d3d3d3" points="356.8,654.2 357.8,656.2 357.8,667.2 356.8,669.2 355.8,667.2 355.8,656.2"/>
<polygon fill="#d3d3d3" points="415.4,641.2 416.6,643.2 416.6,653.2 415.4,655.2 414.2,653.2 414.2,643.2"/>
<polygon fill="#d3d3d3" points="425.4,681.2 426.6,683.2 426.6,697.2 425.4,699.2 424.2,697.2 424.2,683.2"/>
<polyline fill="none" stroke="#d3d3d3" stroke-width="4.5" stroke-linejoin="round" points="153,688.1 155.2,702.4 157.5,720.6 159,732.7 159.8,753.8 161.3,737.2 164.3,720.6 167.3,703.9 169.6,695.6 171.9,700.9 175.7,714.5 178.7,720.6 181.7,734.2 184,729.6 187.8,735.7 190,759.9 190.8,782.6 193,768.9 194.6,750.8 196.1,755.3 197.6,764.4 199.8,747.8 201.4,750.8 203.6,768.9 205.9,785.6 208.2,778 211.9,774.2 213.5,759.9 215,743.3 217.2,729.6 219.5,728.1 221.8,732.7 223.3,722.1 225.6,719.1 227.1,723.6 228.6,730.4 230.8,705.4 231.6,681.2 233.9,670.7 236.1,685.8 238.4,687.3 240.7,691.8 242.9,703.9 245.2,684.3 248.2,683.5 250.5,673.7 252.8,682.8 254.3,691.1 257.3,690.3 258.8,678.2 260,666.1 260.3,660.1 261.5,658.5 263,657.8 264.8,657.2"/>
<polyline fill="none" stroke="#d3d3d3" stroke-width="4.5" stroke-linejoin="round" points="302.6,650.4 306,653.3 311.3,657.1 313.6,670.7 315.1,670.7 316.6,637.4 321.9,631.3 324.1,641.9 325.7,660.1 328.7,663.1 331.7,666.1 334,662.3 337,672.2 339.3,680.5 341.5,672.2 345.3,660.1 346.1,640.4 348.3,637.4 351.4,649.5 353.6,655.5 355.9,657.1 357.4,661.6 359.7,661.6 362.7,651 365,648 366.2,654 368,635.9 372.5,640.4 374.8,641.2 376.3,632.9 380.1,620.8 382.4,622.3 383.9,634.4 385.8,619.2 387.7,622.3 390.7,632.9 393.7,641.9 396.7,652.5 399.7,652.5 402.8,648 405,655.5 408.1,660.1 411.1,670.7 413.4,657.1 415.6,654 417.9,664.6 419.4,654 421.7,660.1 424.1,684.3 427.1,687.3 427.8,657.1 432.4,649.5 437.7,641.9 439.9,657.1 441.5,672.2 444.5,658.6 446.8,661.6 449.8,682.8 452.8,682.8 455.8,664.6 459.6,645.7 462.6,649.5 466.4,673.7 469.4,657.1 473.2,655.5 477,681.3 480,670.7 483.8,669.2 488.3,660.1 490.6,651 492.9,657.1 496.7,687.3 500.4,666.1 504.2,657.1 510.3,648 514,663.1 517.8,672.2 519.3,679.7 522.4,669.2 526.1,679.7 529.2,688.8 531.4,720.6 532.9,694.9 536,667.6 539,687.3 541.3,694.9 544.3,675.2 548.1,660.1 551.8,669.2 554.9,660.1 557.9,661.6 560.2,672.2 563.2,669.2 567,672.2 569.4,675.2 573.1,685.8 576.9,691.8 579.2,684.3 583,676.7 587.5,670.7 591.3,666.9 594.3,674.4 598.1,670.7 601.9,675.2 605.7,666.1 607.9,670.7 610.9,678.2 615.5,678.2 618.5,670.7 621.5,674.4 625.3,670.7 629.1,669.2 632.1,676.7 634.4,670.7 637.4,661.6 640.4,658.6 644.2,655.5 648,663.1 650.3,666.1 652.5,657.1 656.3,663.1 659.3,663.1 661.6,641.9 663.1,622.3 665.4,618.5 666.9,634.4 668.4,626.8 670.7,628.3 673.7,619.2 676.7,620.8 679,628.3 682,625.3 684.3,628.3 686.6,637.4 689.6,634.4 693.4,631.3 696.4,634.4 699.4,629.1 701.8,632.9 704.1,635.9 707.1,626.8 712.4,630.6 716.9,627.6 720.7,629.8 723.7,640.4 729,648 735.1,651.8 738.8,646.5 741.9,654 744.9,660.8 748.7,651 753.2,649.5 754.7,643.4 757.8,645 759.3,635.1 765.3,641.9 772.9,648 777.4,647.2 783.5,651.8 788.7,646.5 791,645 794,647.2 797.1,638.9 800.1,651 807.7,650.2 810.7,640.4 813.7,648 818.2,652.5 821.3,640.4 825,641.9 828.8,648 833.4,658.6 835.6,654 840.9,658.6 841.8,657.8 847.8,659.3 852.4,660.1 856.2,667.6 859.9,672.2 864.5,676.7 869,684.3 872,686.5 876.6,683.5 881.1,679.7 884.1,684.3 885.7,690.3 887.9,670.7 891.7,663.9 894.7,664.6 897.8,679.7 899.3,688.8 901.5,669.2 904.6,664.6 908.3,667.6 911.4,676.7 914.4,688.8 915.9,710 917.4,732.7 918.6,761.4 921.9,761.4 922.7,747.8 924.2,722.1 926.5,717.5 928,717.5 929.5,687.3 930.3,675.2 931.8,681.2 933.3,700.9 935.6,691.8 938.6,675.2 940.8,661.6 942.8,663.1"/>
<polyline fill="none" stroke="#111" stroke-width="2.3" stroke-linejoin="round" points="153,688.1 155.2,702.4 157.5,720.6 159,732.7 159.8,753.8 161.3,737.2 164.3,720.6 167.3,703.9 169.6,695.6 171.9,700.9 175.7,714.5 178.7,720.6 181.7,734.2 184,729.6 187.8,735.7 190,759.9 190.8,782.6 193,768.9 194.6,750.8 196.1,755.3 197.6,764.4 199.8,747.8 201.4,750.8 203.6,768.9 205.9,785.6 208.2,778 211.9,774.2 213.5,759.9 215,743.3 217.2,729.6 219.5,728.1 221.8,732.7 223.3,722.1 225.6,719.1 227.1,723.6 228.6,730.4 230.8,705.4 231.6,681.2 233.9,670.7 236.1,685.8 238.4,687.3 240.7,691.8 242.9,703.9 245.2,684.3 248.2,683.5 250.5,673.7 252.8,682.8 254.3,691.1 257.3,690.3 258.8,678.2 260,666.1 260.3,660.1 261.5,658.5 263,657.8 264.8,657.2"/>
<polyline fill="none" stroke="#111" stroke-width="2.3" stroke-linejoin="round" points="302.6,650.4 306,653.3 311.3,657.1 313.6,670.7 315.1,670.7 316.6,637.4 321.9,631.3 324.1,641.9 325.7,660.1 328.7,663.1 331.7,666.1 334,662.3 337,672.2 339.3,680.5 341.5,672.2 345.3,660.1 346.1,640.4 348.3,637.4 351.4,649.5 353.6,655.5 355.9,657.1 357.4,661.6 359.7,661.6 362.7,651 365,648 366.2,654 368,635.9 372.5,640.4 374.8,641.2 376.3,632.9 380.1,620.8 382.4,622.3 383.9,634.4 385.8,619.2 387.7,622.3 390.7,632.9 393.7,641.9 396.7,652.5 399.7,652.5 402.8,648 405,655.5 408.1,660.1 411.1,670.7 413.4,657.1 415.6,654 417.9,664.6 419.4,654 421.7,660.1 424.1,684.3 427.1,687.3 427.8,657.1 432.4,649.5 437.7,641.9 439.9,657.1 441.5,672.2 444.5,658.6 446.8,661.6 449.8,682.8 452.8,682.8 455.8,664.6 459.6,645.7 462.6,649.5 466.4,673.7 469.4,657.1 473.2,655.5 477,681.3 480,670.7 483.8,669.2 488.3,660.1 490.6,651 492.9,657.1 496.7,687.3 500.4,666.1 504.2,657.1 510.3,648 514,663.1 517.8,672.2 519.3,679.7 522.4,669.2 526.1,679.7 529.2,688.8 531.4,720.6 532.9,694.9 536,667.6 539,687.3 541.3,694.9 544.3,675.2 548.1,660.1 551.8,669.2 554.9,660.1 557.9,661.6 560.2,672.2 563.2,669.2 567,672.2 569.4,675.2 573.1,685.8 576.9,691.8 579.2,684.3 583,676.7 587.5,670.7 591.3,666.9 594.3,674.4 598.1,670.7 601.9,675.2 605.7,666.1 607.9,670.7 610.9,678.2 615.5,678.2 618.5,670.7 621.5,674.4 625.3,670.7 629.1,669.2 632.1,676.7 634.4,670.7 637.4,661.6 640.4,658.6 644.2,655.5 648,663.1 650.3,666.1 652.5,657.1 656.3,663.1 659.3,663.1 661.6,641.9 663.1,622.3 665.4,618.5 666.9,634.4 668.4,626.8 670.7,628.3 673.7,619.2 676.7,620.8 679,628.3 682,625.3 684.3,628.3 686.6,637.4 689.6,634.4 693.4,631.3 696.4,634.4 699.4,629.1 701.8,632.9 704.1,635.9 707.1,626.8 712.4,630.6 716.9,627.6 720.7,629.8 723.7,640.4 729,648 735.1,651.8 738.8,646.5 741.9,654 744.9,660.8 748.7,651 753.2,649.5 754.7,643.4 757.8,645 759.3,635.1 765.3,641.9 772.9,648 777.4,647.2 783.5,651.8 788.7,646.5 791,645 794,647.2 797.1,638.9 800.1,651 807.7,650.2 810.7,640.4 813.7,648 818.2,652.5 821.3,640.4 825,641.9 828.8,648 833.4,658.6 835.6,654 840.9,658.6 841.8,657.8 847.8,659.3 852.4,660.1 856.2,667.6 859.9,672.2 864.5,676.7 869,684.3 872,686.5 876.6,683.5 881.1,679.7 884.1,684.3 885.7,690.3 887.9,670.7 891.7,663.9 894.7,664.6 897.8,679.7 899.3,688.8 901.5,669.2 904.6,664.6 908.3,667.6 911.4,676.7 914.4,688.8 915.9,710 917.4,732.7 918.6,761.4 921.9,761.4 922.7,747.8 924.2,722.1 926.5,717.5 928,717.5 929.5,687.3 930.3,675.2 931.8,681.2 933.3,700.9 935.6,691.8 938.6,675.2 940.8,661.6 942.8,663.1"/>
<rect x="114.9" y="551.4" width="867.8" height="251.1" fill="none" stroke="#333" stroke-width="1.7"/>
<line x1="106.3" y1="556.5" x2="114.9" y2="556.5" stroke="#333" stroke-width="1.7"/>
<text x="99.1" y="567.1" font-size="24.6" fill="#4d4d4d" text-anchor="end">100</text>
<line x1="106.3" y1="632.8" x2="114.9" y2="632.8" stroke="#333" stroke-width="1.7"/>
<text x="99.1" y="643.4" font-size="24.6" fill="#4d4d4d" text-anchor="end">95</text>
<line x1="106.3" y1="709.1" x2="114.9" y2="709.1" stroke="#333" stroke-width="1.7"/>
<text x="99.1" y="719.7" font-size="24.6" fill="#4d4d4d" text-anchor="end">90</text>
<line x1="106.3" y1="785.4" x2="114.9" y2="785.4" stroke="#333" stroke-width="1.7"/>
<text x="99.1" y="796" font-size="24.6" fill="#4d4d4d" text-anchor="end">85</text>
<line x1="120" y1="802.5" x2="120" y2="806" stroke="#333" stroke-width="1.7"/>
<line x1="321.3" y1="802.5" x2="321.3" y2="806" stroke="#333" stroke-width="1.7"/>
<line x1="518.2" y1="802.5" x2="518.2" y2="806" stroke="#333" stroke-width="1.7"/>
<line x1="717.2" y1="802.5" x2="717.2" y2="806" stroke="#333" stroke-width="1.7"/>
<line x1="918.5" y1="802.5" x2="918.5" y2="806" stroke="#333" stroke-width="1.7"/>
<text x="942.4" y="789.8" font-size="33" font-weight="bold" fill="#000">C</text>
<polygon fill="#d3d3d3" points="466.3,991.4 472.4,983 478.4,964.1 480.6,967.7 482.9,964.1 485.2,973.5 487.5,973.2 492,977.1 496.5,973.2 501.1,979.7 505.6,985.3 508.6,973.8 511.7,953.6 514.7,945 517.7,926.3 520.8,939.2 523.8,946 528.7,942.7 533.6,920.3 535.9,946 538.5,939.5 541.1,927.9 543.8,946.7 546.4,959.6 551,958.9 555.5,953.6 559.3,951.7 563.1,941.5 566.1,939.6 569.1,930.9 571.4,923.6 573.7,906.7 575.9,888.5 577.8,901.8 579.7,906.7 582.1,906.7 585.9,919.5 589.7,923.3 591.5,913.1 593.4,896.1 596,894.3 598.7,879.5 602.5,891.2 606.3,897.6 610.8,888 615.4,864.3 618.4,878.9 621.4,885.5 624.5,888.5 627.5,879.5 631.2,881.1 635,867.4 638,894.6 641,893.4 644.1,882.5 647.1,894.5 650.1,897.6 653.5,896.3 657,877.9 658.9,892.6 660.7,896.1 663.8,895.5 666.8,885.5 669,896.7 671.3,900.6 675.1,903.3 678.9,894.6 681.1,882.5 683,890.6 684.9,887 687.2,875.5 689.5,852.2 692.5,854.2 695.5,844.7 697.8,864.4 700,879.5 703,876.5 706.1,861.3 708.4,875.3 710.6,882.5 712.5,890.4 714.5,888.5 716.8,885.7 719.1,874.9 721.4,883.9 723.6,885.5 725.9,875.1 728.1,850.7 731.2,860.5 734.2,861.3 737.2,867.1 740.2,864.3 742.5,857.5 744.8,840.1 749.3,845.6 753.9,838.6 756.1,855.6 758.4,867.4 761.4,867.9 764.4,856.8 767.5,853.5 770.5,838.6 775,842.2 779.6,834.1 781.5,839.7 783.3,834.1 785.6,856.8 788.7,863.4 791.7,858.3 794.7,857.2 797.7,846.2 801.1,847.2 804.5,837.1 807.1,851.6 809.8,856.8 812.8,862.3 815.9,856.8 818.1,868.7 820.4,874.9 822.6,873.2 824.9,864.3 828.7,870.7 832.5,868.9 835.5,883 838.5,893.1 840.8,887.1 843.1,874.9 846.5,880.8 850,877.8 854.4,885.3 858.8,886.7 861.8,891.1 864.7,885.2 869.1,886.6 873.5,882.2 877.2,889.7 880.9,892.5 883.8,898.7 886.7,902.8 893,905.6 899.2,889.6 901.8,902.1 904.4,910.2 908,914.2 911.7,907.2 915.4,908 919.1,902.8 921.3,913.8 923.5,924.9 927.1,934.8 930.8,933.7 934.1,928.8 937.4,917.5 940.7,938 944,954.2 944,963.1 941.1,952 938.2,942.5 935.2,942.5 932.3,948.4 929.7,950.5 927.1,957.2 924.5,941 922,924.9 917.6,923.7 913.2,930.7 910.2,934.8 907.3,945.4 903.6,923.8 900,907.2 897,920.3 894.1,939.6 891.1,948.4 887.5,925.7 883.8,913.1 879.4,906.5 875,904.3 870.6,905.1 866.2,913.1 864,915.7 861.8,924.9 858.8,915 855.9,913.1 853,901 850,895.5 848,899.8 846.1,909.7 842.3,904.1 838.5,906.7 836.2,899.2 834,896.1 829.5,896.2 824.9,905.2 821.9,888.5 817.3,888.8 812.8,897.6 809.8,873.4 805.2,874.7 800.7,885.5 797,885.9 793.2,897.6 789.4,887.8 785.6,882.5 781.8,874.2 778,877.9 774.2,876.5 770.5,885.5 767.5,889.8 764.4,906.7 759.9,893.5 755.4,885.5 751.6,882.8 747.8,893.1 744.8,890.8 741.8,903.7 739.5,892.8 737.2,890 734.2,888.3 731.2,894.6 727.8,901.2 724.4,921.8 720.2,908.8 716,906.7 713,910.7 710,915.8 707.3,905.8 704.6,911.2 701.5,902 698.5,897.6 694.8,893.1 691,906.7 688,907.5 684.9,920.3 681.9,923.3 678.9,936.9 676.6,931.6 674.3,933.9 669.8,926.9 665.3,930.9 663,923.4 660.7,924.8 657,923.6 653.2,935.4 649.4,926.1 645.6,924.8 642.6,918.1 639.6,918.8 635.8,915.4 632,926.3 627.5,916.8 622.9,918.8 619.1,911 615.4,915.8 613.1,918 610.8,933.9 606.3,922.6 601.8,918.8 598,919.6 594.2,930.9 592,938.8 589.7,958.1 585.2,942.1 580.6,933.9 577.5,930.1 574.5,936.9 572.2,949.7 570,974.7 568,966.7 566.1,970.1 563.9,972.3 561.6,984.6 558.5,977.8 555.5,979.3 551,975.9 546.4,979.3 542.6,967.2 538.9,967.2 534.3,962.7 529.8,973.2 527.5,983.7 525.3,1000.4 523,978.4 520.7,967.2 516.2,966.8 511.7,971.7 509.4,989.5 507.1,1011 501.1,1003.3 495,1008 490.5,1002.7 486,1008 480.7,1003.5 475.4,1015.6 470.9,1012.3 466.3,1017"/>
<polygon fill="#d3d3d3" points="445,1018 452,1004 460,1003 466.3,991.4 466.3,1017 460,1022 452,1030 445,1033"/>
<polygon fill="#d3d3d3" points="162,940 163,942 163,956 162,958 161,956 161,942"/>
<polygon fill="#d3d3d3" points="192.2,975 193.2,977 193.2,988 192.2,990 191.2,988 191.2,977"/>
<polygon fill="#d3d3d3" points="208.8,1005 209.8,1007 209.8,1014 208.8,1016 207.8,1014 207.8,1007"/>
<polygon fill="#d3d3d3" points="239,980 240,982 240,993 239,995 238,993 238,982"/>
<polygon fill="#d3d3d3" points="265.5,985 266.5,987 266.5,998 265.5,1000 264.5,998 264.5,987"/>
<polygon fill="#d3d3d3" points="309.7,1040 310.7,1042 310.7,1051 309.7,1053 308.7,1051 308.7,1042"/>
<polygon fill="#d3d3d3" points="327,1030 328,1032 328,1043 327,1045 326,1043 326,1032"/>
<polygon fill="#d3d3d3" points="380,1005 381,1007 381,1018 380,1020 379,1018 379,1007"/>
<polygon fill="#d3d3d3" points="393.6,1003 394.6,1005 394.6,1014 393.6,1016 392.6,1014 392.6,1005"/>
<polygon fill="#d3d3d3" points="420.8,1020 421.8,1022 421.8,1035 420.8,1037 419.8,1035 419.8,1022"/>
<polygon fill="#d3d3d3" points="437.4,1040 438.4,1042 438.4,1051 437.4,1053 436.4,1051 436.4,1042"/>
<polygon fill="#d3d3d3" points="441.3,1045 442.5,1047 442.5,1060 441.3,1062 440.1,1060 440.1,1047"/>
<polygon fill="#d3d3d3" points="337,988 338,990 338,998 337,1000 336,998 336,990"/>
<polygon fill="#d3d3d3" points="410.2,960 411.2,962 411.2,970 410.2,972 409.2,970 409.2,962"/>
<polygon fill="#d3d3d3" points="353.5,975 354.5,977 354.5,988 353.5,990 352.5,988 352.5,977"/>
<polyline fill="none" stroke="#d3d3d3" stroke-width="4.5" stroke-linejoin="round" points="161.2,950.5 162.7,946 164.2,943 166.5,928.6 168.7,936.9 171,947.5 172.5,931.6 174.8,930.9 177,939.9 179.3,950.5 180.8,955.1 182.3,950.5 184.6,953.6 186.1,958.1 188.4,955.1 190.7,962.6 192.2,982.3 194.4,965.7 196.7,964.1 198.2,967.2 199.7,976.2 200.5,985.3 201.2,1009.5 204.3,1007.2 206.5,1005.7 208.8,1009.5 211.1,995.9 212.6,985.3 215.6,980.8 217.9,977.8 218.6,971.7 220.9,964.9 224.7,971.7 229.2,979.3 233,985.3 235.3,983.8 237.5,985.3 239,988.3 239.8,941.5 242.1,932.4 244.3,943 245.9,955.1 248.9,959.6 251.9,968.7 255.7,976.2 259.5,976.2 263.2,982.3 265.2,986.8 265.6,993 266,998.5"/>
<polyline fill="none" stroke="#d3d3d3" stroke-width="4.5" stroke-linejoin="round" points="302.9,1033.7 304.4,1032.2 305.9,1026.1 307.4,1036.7 309.7,1046.6 311.9,1035.2 315,1030.7 317.2,1018.6 320.2,1008.8 322.5,1014 324.8,1026.1 327,1037.5 330.8,1032.2 334.6,1026.1 336.1,1006.5 337.6,995.1 339.9,998.9 342.2,994.4 344.4,991.4 348.2,1002 350.5,991.4 353.5,983 355,998.9 356.5,998.9 359.6,986.8 363.3,992.9 367.1,998.9 370.1,997.4 372.4,1000.4 373.9,1014.8 376.2,1001.9 377.7,1003.5 380,1013.3 383,1013.3 385.3,1001.9 388,989.1 389.8,1003.5 391.3,1009.5 393.6,1010.3 395.9,994.4 398.9,973.2 401.9,971.7 404.2,974.7 407.9,972.5 410.2,969.4 412.5,982.3 415.5,1000.4 418.5,1020.1 420.8,1026.1 422.3,1008 425.3,1005 429.1,984.6 431.4,1017.1 432.9,1039.8 436,1045.8 439.1,1048.8 441.3,1053.4 442.9,1041.3 445.1,1026.1 446.6,1015.6 448.9,1021.6 450.4,1012.5 452.7,1005.7 455,1011 457.2,1007.2 460.2,1012.5 462.5,1013.3 465.5,1003.5 469.3,1002 472.3,998.9 475.4,1000.4 478.4,982.3 482.9,974.7 486,992.9 490.5,986.8 495,992.9 500.3,981.5 502.6,991.4 507.1,993.6 509.4,983.8 513.2,961.1 516.2,958.9 519.2,944.5 521.5,950.5 525.3,980 529.8,968.7 532.1,955.1 534.3,939.9 536.6,953.6 538.9,946 541.9,944.5 545.7,967.2 549.5,968.7 551,965.7 554.8,972.5 557,967.2 563.1,959.6 566.1,949.8 570,949 572.3,930.9 576,912.7 579.1,915.8 581.3,926.3 583.6,924.8 587.4,938.4 590.4,927.9 592.7,918.8 595,918.8 598.7,900.6 601.8,899.1 604.8,899.1 607,917.3 609.3,917.3 613.9,893.1 616.9,888.5 619.9,893.1 623.7,909.7 626.7,897.6 630.5,906.7 635,891.6 641.1,908.2 645.6,904.4 648.6,911.2 651.7,921.8 654.7,921.8 657,903.7 660,912.7 665.3,908.2 668.3,905.2 672.8,920.3 677.4,920.3 679.6,922.6 680.4,906.7 684.9,908.9 687.2,893.1 691,874.9 695.5,864.3 698.5,873.4 700,894.6 703.1,894.6 706.1,879.5 708.4,885.5 710.6,902.1 713.7,906.7 716.8,897.6 719.8,891.6 722.1,896.9 726.6,896.1 728.1,876.4 731.9,873.4 735.7,877.9 738.7,882.5 741.8,874.9 746.3,864.3 750.1,864.3 753.9,862.1 756.1,862.8 758.4,885.5 762.9,885.5 766,873.4 770.5,865.9 775,859.8 778,859 783.3,855.3 785.6,864.3 788.6,881 792.4,881 794.7,871.9 800.7,864.3 804.5,858.3 808.3,868.9 812.1,879.5 816.6,874.9 822.7,884 826.4,882.5 831,883.2 834.8,885.5 838.5,903.7 842.3,891.6 845.3,896.1 850.6,887 852.9,891.1 857.3,901.4 861.8,906.5 864.7,905.8 868.4,895.5 874.2,892.5 879.4,899.9 883.1,902.8 886.7,907.2 888.9,917.5 891.1,933.7 893.4,933.7 899.2,897.7 903.6,916 906.6,930.7 908.8,930.7 911,921.9 914.7,919 919.1,907.2 922,911.6 923.5,942.5 926.4,944 927.1,951.3 930.1,942.5 933.8,939.6 937.4,924.9 939.6,938.1 943.3,960.1"/>
<polyline fill="none" stroke="#111" stroke-width="2.3" stroke-linejoin="round" points="161.2,950.5 162.7,946 164.2,943 166.5,928.6 168.7,936.9 171,947.5 172.5,931.6 174.8,930.9 177,939.9 179.3,950.5 180.8,955.1 182.3,950.5 184.6,953.6 186.1,958.1 188.4,955.1 190.7,962.6 192.2,982.3 194.4,965.7 196.7,964.1 198.2,967.2 199.7,976.2 200.5,985.3 201.2,1009.5 204.3,1007.2 206.5,1005.7 208.8,1009.5 211.1,995.9 212.6,985.3 215.6,980.8 217.9,977.8 218.6,971.7 220.9,964.9 224.7,971.7 229.2,979.3 233,985.3 235.3,983.8 237.5,985.3 239,988.3 239.8,941.5 242.1,932.4 244.3,943 245.9,955.1 248.9,959.6 251.9,968.7 255.7,976.2 259.5,976.2 263.2,982.3 265.2,986.8 265.6,993 266,998.5"/>
<polyline fill="none" stroke="#111" stroke-width="2.3" stroke-linejoin="round" points="302.9,1033.7 304.4,1032.2 305.9,1026.1 307.4,1036.7 309.7,1046.6 311.9,1035.2 315,1030.7 317.2,1018.6 320.2,1008.8 322.5,1014 324.8,1026.1 327,1037.5 330.8,1032.2 334.6,1026.1 336.1,1006.5 337.6,995.1 339.9,998.9 342.2,994.4 344.4,991.4 348.2,1002 350.5,991.4 353.5,983 355,998.9 356.5,998.9 359.6,986.8 363.3,992.9 367.1,998.9 370.1,997.4 372.4,1000.4 373.9,1014.8 376.2,1001.9 377.7,1003.5 380,1013.3 383,1013.3 385.3,1001.9 388,989.1 389.8,1003.5 391.3,1009.5 393.6,1010.3 395.9,994.4 398.9,973.2 401.9,971.7 404.2,974.7 407.9,972.5 410.2,969.4 412.5,982.3 415.5,1000.4 418.5,1020.1 420.8,1026.1 422.3,1008 425.3,1005 429.1,984.6 431.4,1017.1 432.9,1039.8 436,1045.8 439.1,1048.8 441.3,1053.4 442.9,1041.3 445.1,1026.1 446.6,1015.6 448.9,1021.6 450.4,1012.5 452.7,1005.7 455,1011 457.2,1007.2 460.2,1012.5 462.5,1013.3 465.5,1003.5 469.3,1002 472.3,998.9 475.4,1000.4 478.4,982.3 482.9,974.7 486,992.9 490.5,986.8 495,992.9 500.3,981.5 502.6,991.4 507.1,993.6 509.4,983.8 513.2,961.1 516.2,958.9 519.2,944.5 521.5,950.5 525.3,980 529.8,968.7 532.1,955.1 534.3,939.9 536.6,953.6 538.9,946 541.9,944.5 545.7,967.2 549.5,968.7 551,965.7 554.8,972.5 557,967.2 563.1,959.6 566.1,949.8 570,949 572.3,930.9 576,912.7 579.1,915.8 581.3,926.3 583.6,924.8 587.4,938.4 590.4,927.9 592.7,918.8 595,918.8 598.7,900.6 601.8,899.1 604.8,899.1 607,917.3 609.3,917.3 613.9,893.1 616.9,888.5 619.9,893.1 623.7,909.7 626.7,897.6 630.5,906.7 635,891.6 641.1,908.2 645.6,904.4 648.6,911.2 651.7,921.8 654.7,921.8 657,903.7 660,912.7 665.3,908.2 668.3,905.2 672.8,920.3 677.4,920.3 679.6,922.6 680.4,906.7 684.9,908.9 687.2,893.1 691,874.9 695.5,864.3 698.5,873.4 700,894.6 703.1,894.6 706.1,879.5 708.4,885.5 710.6,902.1 713.7,906.7 716.8,897.6 719.8,891.6 722.1,896.9 726.6,896.1 728.1,876.4 731.9,873.4 735.7,877.9 738.7,882.5 741.8,874.9 746.3,864.3 750.1,864.3 753.9,862.1 756.1,862.8 758.4,885.5 762.9,885.5 766,873.4 770.5,865.9 775,859.8 778,859 783.3,855.3 785.6,864.3 788.6,881 792.4,881 794.7,871.9 800.7,864.3 804.5,858.3 808.3,868.9 812.1,879.5 816.6,874.9 822.7,884 826.4,882.5 831,883.2 834.8,885.5 838.5,903.7 842.3,891.6 845.3,896.1 850.6,887 852.9,891.1 857.3,901.4 861.8,906.5 864.7,905.8 868.4,895.5 874.2,892.5 879.4,899.9 883.1,902.8 886.7,907.2 888.9,917.5 891.1,933.7 893.4,933.7 899.2,897.7 903.6,916 906.6,930.7 908.8,930.7 911,921.9 914.7,919 919.1,907.2 922,911.6 923.5,942.5 926.4,944 927.1,951.3 930.1,942.5 933.8,939.6 937.4,924.9 939.6,938.1 943.3,960.1"/>
<rect x="121.6" y="821.7" width="860.7" height="251.6" fill="none" stroke="#333" stroke-width="1.7"/>
<line x1="113" y1="829.6" x2="121.6" y2="829.6" stroke="#333" stroke-width="1.7"/>
<text x="106.3" y="840.2" font-size="24.6" fill="#4d4d4d" text-anchor="end">15.0</text>
<line x1="113" y1="885.1" x2="121.6" y2="885.1" stroke="#333" stroke-width="1.7"/>
<text x="106.3" y="895.7" font-size="24.6" fill="#4d4d4d" text-anchor="end">12.5</text>
<line x1="113" y1="940.5" x2="121.6" y2="940.5" stroke="#333" stroke-width="1.7"/>
<text x="106.3" y="951.1" font-size="24.6" fill="#4d4d4d" text-anchor="end">10.0</text>
<line x1="113" y1="996" x2="121.6" y2="996" stroke="#333" stroke-width="1.7"/>
<text x="106.3" y="1006.6" font-size="24.6" fill="#4d4d4d" text-anchor="end">7.5</text>
<line x1="113" y1="1051.4" x2="121.6" y2="1051.4" stroke="#333" stroke-width="1.7"/>
<text x="106.3" y="1062" font-size="24.6" fill="#4d4d4d" text-anchor="end">5.0</text>
<line x1="126.5" y1="1073.3" x2="126.5" y2="1076.8" stroke="#333" stroke-width="1.7"/>
<line x1="326.1" y1="1073.3" x2="326.1" y2="1076.8" stroke="#333" stroke-width="1.7"/>
<line x1="521.3" y1="1073.3" x2="521.3" y2="1076.8" stroke="#333" stroke-width="1.7"/>
<line x1="718.6" y1="1073.3" x2="718.6" y2="1076.8" stroke="#333" stroke-width="1.7"/>
<line x1="918.2" y1="1073.3" x2="918.2" y2="1076.8" stroke="#333" stroke-width="1.7"/>
<text x="942.2" y="1056" font-size="33" font-weight="bold" fill="#000">D</text>
<polygon fill="#d3d3d3" points="227.9,1132 228.9,1134 228.9,1168 227.9,1170 226.9,1168 226.9,1134"/>
<polygon fill="#d3d3d3" points="230,1215 231.2,1217 231.2,1248 230,1250 228.8,1248 228.8,1217"/>
<polygon fill="#d3d3d3" points="244.5,1292 245.5,1294 245.5,1328 244.5,1330 243.5,1328 243.5,1294"/>
<polygon fill="#d3d3d3" points="194.6,1314 195.4,1316 195.4,1325 194.6,1327 193.8,1325 193.8,1316"/>
<polygon fill="#d3d3d3" points="258,1310 258.8,1312 258.8,1330 258,1332 257.2,1330 257.2,1312"/>
<polygon fill="#d3d3d3" points="232.5,1300 233.5,1302 233.5,1326 232.5,1328 231.5,1326 231.5,1302"/>
<polygon fill="#d3d3d3" points="220,1290 221.2,1292 221.2,1323 220,1325 218.8,1323 218.8,1292"/>
<polygon fill="#d3d3d3" points="405,1105 406,1107 406,1138 405,1140 404,1138 404,1107"/>
<polygon fill="#d3d3d3" points="396.8,1214 398,1216 398,1248 396.8,1250 395.6,1248 395.6,1216"/>
<polygon fill="#d3d3d3" points="386,1287 387,1289 387,1327 386,1329 385,1327 385,1289"/>
<polygon fill="#d3d3d3" points="380,1300 381,1302 381,1323 380,1325 379,1323 379,1302"/>
<polygon fill="#d3d3d3" points="389.5,1305 390.5,1307 390.5,1326 389.5,1328 388.5,1326 388.5,1307"/>
<polygon fill="#d3d3d3" points="311,1315 311.8,1317 311.8,1324 311,1326 310.2,1324 310.2,1317"/>
<polygon fill="#d3d3d3" points="234,1315 235,1317 235,1328 234,1330 233,1328 233,1317"/>
<polyline fill="none" stroke="#d3d3d3" stroke-width="3.0" stroke-linejoin="round" points="165.1,1320.3 168.1,1319.6 170.4,1318.8 172.7,1320.3 176.5,1318.8 179.5,1320.3 212.4,1320.3 213.6,1313 216.1,1312 217.3,1304.5 218.5,1302 221,1300.8 222.8,1297 223.5,1281 224.7,1280 224.7,1262.7 225.9,1261.5 225.9,1214.7 227.3,1213.5 227.6,1167.6 228.6,1167.6 229,1217 230.2,1220 230.2,1246 231.5,1247 231.5,1271 233.3,1273 233.3,1296 234,1297 234,1320.3 238.5,1320.3 242.2,1317.3 244.5,1305.2 246.8,1311.3 248.3,1320.3 258.9,1320.3"/>
<polyline fill="none" stroke="#d3d3d3" stroke-width="3.0" stroke-linejoin="round" points="296,1320.3 377,1320.3 379.2,1312.8 380.7,1311.3 383.8,1315.8 386,1308.2 388.3,1315.8 391.3,1314.3 392.8,1300.7 394.3,1276.5 395.1,1252.3 396.6,1243.2 398.1,1268.9 399.6,1244.7 401.9,1243.2 402.2,1191.8 403.7,1138.9 404.9,1138.9 405.7,1178.2 406.4,1216 406.7,1320.3 518,1320.3 520,1322.5 522,1320.8 662.8,1320.8"/>
<polyline fill="none" stroke="#111" stroke-width="2.3" stroke-linejoin="round" points="165.1,1320.3 168.1,1319.6 170.4,1318.8 172.7,1320.3 176.5,1318.8 179.5,1320.3 212.4,1320.3 213.6,1313 216.1,1312 217.3,1304.5 218.5,1302 221,1300.8 222.8,1297 223.5,1281 224.7,1280 224.7,1262.7 225.9,1261.5 225.9,1214.7 227.3,1213.5 227.6,1167.6 228.6,1167.6 229,1217 230.2,1220 230.2,1246 231.5,1247 231.5,1271 233.3,1273 233.3,1296 234,1297 234,1320.3 238.5,1320.3 242.2,1317.3 244.5,1305.2 246.8,1311.3 248.3,1320.3 258.9,1320.3"/>
<polyline fill="none" stroke="#111" stroke-width="2.3" stroke-linejoin="round" points="296,1320.3 377,1320.3 379.2,1312.8 380.7,1311.3 383.8,1315.8 386,1308.2 388.3,1315.8 391.3,1314.3 392.8,1300.7 394.3,1276.5 395.1,1252.3 396.6,1243.2 398.1,1268.9 399.6,1244.7 401.9,1243.2 402.2,1191.8 403.7,1138.9 404.9,1138.9 405.7,1178.2 406.4,1216 406.7,1320.3 518,1320.3 520,1322.5 522,1320.8 662.8,1320.8"/>
<rect x="126.2" y="1092.4" width="854.4" height="251.1" fill="none" stroke="#333" stroke-width="1.7"/>
<line x1="117.6" y1="1138" x2="126.2" y2="1138" stroke="#333" stroke-width="1.7"/>
<text x="111.3" y="1148.6" font-size="24.6" fill="#4d4d4d" text-anchor="end">3000</text>
<line x1="117.6" y1="1199.2" x2="126.2" y2="1199.2" stroke="#333" stroke-width="1.7"/>
<text x="111.3" y="1209.8" font-size="24.6" fill="#4d4d4d" text-anchor="end">2000</text>
<line x1="117.6" y1="1260.4" x2="126.2" y2="1260.4" stroke="#333" stroke-width="1.7"/>
<text x="111.3" y="1271" font-size="24.6" fill="#4d4d4d" text-anchor="end">1000</text>
<line x1="117.6" y1="1321.6" x2="126.2" y2="1321.6" stroke="#333" stroke-width="1.7"/>
<text x="111.3" y="1332.2" font-size="24.6" fill="#4d4d4d" text-anchor="end">0</text>
<line x1="131.6" y1="1343.5" x2="131.6" y2="1351.8" stroke="#333" stroke-width="1.7"/>
<line x1="329.8" y1="1343.5" x2="329.8" y2="1351.8" stroke="#333" stroke-width="1.7"/>
<line x1="523.7" y1="1343.5" x2="523.7" y2="1351.8" stroke="#333" stroke-width="1.7"/>
<line x1="719.8" y1="1343.5" x2="719.8" y2="1351.8" stroke="#333" stroke-width="1.7"/>
<line x1="918" y1="1343.5" x2="918" y2="1351.8" stroke="#333" stroke-width="1.7"/>
<text x="941.8" y="1330" font-size="33" font-weight="bold" fill="#000">E</text>
<polygon fill="#d3d3d3" points="149.4,1565.6 152.1,1560.7 154.7,1547.4 157.7,1567.1 160.3,1550.7 163,1529.3 165.7,1547.5 168.3,1565.6 174.4,1569 180.4,1568.6 183.4,1576.5 186.4,1580.7 190.9,1570.4 195.5,1555 200.1,1558.7 204.6,1548.9 206.8,1558.2 209.1,1559.5 211.3,1542 213.6,1521.7 215.1,1511.1 217.4,1538.3 219.3,1543.4 221.2,1544.4 223.4,1542.5 225.7,1532.3 227.6,1506.3 229.5,1470 230.3,1384.1 231.8,1384.1 232.5,1420 234.8,1477.9 237.1,1506.9 239.3,1515.7 242.4,1522.7 245.4,1523.2 247.7,1533.7 249.9,1541.4 254.1,1530.3 258.2,1514.1 258.2,1523.2 254.8,1537.5 251.4,1553.5 247.7,1545 243.9,1541.4 240.9,1543.1 237.8,1551.9 235.6,1523.2 233.7,1486.1 231.8,1462.7 229.5,1500.5 227.2,1538.3 225.4,1574.6 222.7,1558 219.7,1555.4 216.7,1556.5 213.6,1554.1 210.6,1562.5 208.3,1570.5 206.1,1580.7 203.8,1584.4 201.5,1597.3 197,1584.6 192.5,1583.7 189.8,1590.2 187.2,1603.4 183.8,1589.4 180.4,1579.2 174.4,1576.2 168.3,1573.1 165.7,1558.9 163,1550.4 161.1,1560.6 159.2,1576.1 156.6,1578.8 153.9,1588.2 151.7,1582.5 149.4,1582.2"/>
<polygon fill="#d3d3d3" points="570,1578.6 578.9,1580.3 587.7,1578.6 596.6,1579.7 605.5,1578.6 611,1581.5 616.6,1575.3 621,1580 625.4,1580.8 633.2,1585.7 641,1582 649.9,1587.6 658.7,1587.5 660.9,1582 663.1,1573.1 669.8,1567.3 676.5,1558.7 683.1,1563.1 689.8,1560.9 693.6,1564.5 697.5,1563.1 699.2,1567.1 700.9,1567.5 708.6,1568.1 716.4,1565.3 720.8,1569.2 725.2,1573.1 731.9,1570.9 738.6,1565.3 741.9,1563.9 745.2,1556.5 749.7,1561 754.1,1556.5 756.3,1565.1 758.5,1569.8 764,1573.7 769.6,1577.5 773,1576.8 776.3,1575.3 782.4,1578.1 788.5,1578.2 797,1576.6 805.6,1569.7 807.8,1565.8 809.9,1555.8 813.6,1562 817.4,1560.1 820,1562.3 822.7,1562.2 844.1,1568 865.5,1569.7 868.1,1566.1 870.8,1559 873,1564.4 875.1,1565.4 891.7,1564.7 908.2,1561.1 920,1562.9 931.7,1552.6 937.6,1561.9 943.5,1565.4 943.5,1568.6 940.9,1572.2 938.2,1576.1 931.8,1572.6 925.3,1578.2 920,1583 914.6,1587.8 907.2,1580.2 899.7,1584.6 889,1581.2 878.3,1584.6 874,1577.5 869.8,1574 850.5,1576.1 831.3,1578.2 824.9,1576.3 818.5,1578.2 816.4,1581.2 814.2,1591.1 809.9,1587.8 805.6,1595.3 799.2,1589.8 792.8,1586.8 786.4,1586.8 780,1590 774.8,1585.3 769.6,1583.1 763,1581.2 756.3,1583.1 753,1585 749.6,1594.2 744.1,1584.2 738.6,1580.8 731.9,1581.2 725.2,1585.3 716.4,1579.2 707.5,1578.6 700.9,1580.5 694.2,1583.1 690.9,1585 687.5,1592 682,1583.7 676.5,1583.1 669.8,1580.2 663.1,1583.1 660.5,1607.5 658.7,1592 653.2,1594.1 647.6,1601.9 642,1596 636.5,1596.4 633.8,1601.6 631,1609.7 629.4,1601.3 627.7,1598.6 623.2,1593.9 618.8,1594.2 614.9,1595.1 611,1599.7 604.9,1592.3 598.8,1592 590,1586.8 581.1,1586.4 577.8,1590.7 574.4,1597.5 572.2,1591.1 570,1587.5"/>
<polygon fill="#d3d3d3" points="318,1530 324,1522 330,1530 330,1560 324,1570 318,1560"/>
<polygon fill="#d3d3d3" points="352,1530 358,1520 362,1540 358,1560 352,1555"/>
<polygon fill="#d3d3d3" points="369.2,1455 370.2,1457 370.2,1478 369.2,1480 368.2,1478 368.2,1457"/>
<polygon fill="#d3d3d3" points="382.5,1435 383.7,1437 383.7,1453 382.5,1455 381.3,1453 381.3,1437"/>
<polygon fill="#d3d3d3" points="380,1480 381,1482 381,1508 380,1510 379,1508 379,1482"/>
<polygon fill="#d3d3d3" points="314,1500 315,1502 315,1513 314,1515 313,1513 313,1502"/>
<polygon fill="#d3d3d3" points="547.6,1500 548.6,1502 548.6,1518 547.6,1520 546.6,1518 546.6,1502"/>
<polygon fill="#d3d3d3" points="532.8,1560 533.8,1562 533.8,1573 532.8,1575 531.8,1573 531.8,1562"/>
<polygon fill="#d3d3d3" points="446.6,1580 448.1,1582 448.1,1603 446.6,1605 445.1,1603 445.1,1582"/>
<polygon fill="#d3d3d3" points="492.8,1590 494.3,1592 494.3,1603 492.8,1605 491.3,1603 491.3,1592"/>
<polygon fill="#d3d3d3" points="325,1550 326.5,1552 326.5,1573 325,1575 323.5,1573 323.5,1552"/>
<polygon fill="#d3d3d3" points="336,1560 337.5,1562 337.5,1578 336,1580 334.5,1578 334.5,1562"/>
<polygon fill="#d3d3d3" points="400,1535 401,1537 401,1553 400,1555 399,1553 399,1537"/>
<polygon fill="#d3d3d3" points="530.6,1600 531.6,1602 531.6,1610 530.6,1612 529.6,1610 529.6,1602"/>
<polygon fill="#d3d3d3" points="570.8,1585 572.3,1587 572.3,1598 570.8,1600 569.3,1598 569.3,1587"/>
<polyline fill="none" stroke="#d3d3d3" stroke-width="5.0" stroke-linejoin="round" points="149.4,1571.6 150.9,1576.9 153.1,1570.1 156.2,1567.1 157.7,1573.9 160,1561 163,1538.3 165.2,1547.4 168.3,1568.6 171.3,1570.1 174.3,1574.6 177.3,1578.4 180.4,1573.1 183.4,1582.2 184.9,1588.2 187.9,1588.2 189.4,1580.7 193.2,1574.6 195.5,1564.1 197.8,1568.6 200,1579.2 202.3,1574.6 204.6,1568.6 206.8,1570.1 209.1,1565.6 212.1,1539.9 213.6,1538.3 214.8,1532.3 217.4,1548.9 221.2,1550.4 223.5,1555 225.4,1564.1 226.5,1533.8 228,1517.2 229.5,1500.5 230.3,1458.2 231,1417.4 231.8,1417.4 232.5,1446.1 234,1470.3 235.6,1497.5 236.3,1518.7 237.1,1538.3 238.6,1538.3 240.9,1532.3 246.1,1532.3 249.9,1545.9 252.2,1545.9 256,1529.3 258.2,1520.9"/>
<polyline fill="none" stroke="#d3d3d3" stroke-width="5.0" stroke-linejoin="round" points="296.3,1546.7 299.4,1544.4 301.6,1552 304.7,1553.5 307.7,1556.5 311.5,1561 313,1538.3 314,1511.9 316,1529.3 319.8,1530.8 322.8,1545.9 325.1,1556.5 327.3,1547.4 330.4,1540.6 333.4,1550.4 335.7,1565.6 337.9,1562.5 341,1542.9 343.2,1520.2 346.2,1521.7 347.8,1535.3 350,1547.4 352.3,1539.9 354.6,1547.4 357.6,1535.3 360.6,1535.3 363.6,1538.3 365.9,1524.7 368.2,1512.6 369.2,1477.9 370.9,1503.6 372.7,1503.6 375,1509.6 376.5,1482.4 378.8,1486.9 380.3,1474.8 382.5,1453.7 384.8,1474.8 386.3,1493 389.3,1508.1 392.4,1521.7 395.4,1532.3 399.9,1544.4 402.2,1553.5 406,1553.5 408.2,1559.5 409.8,1570.1 412,1561 415,1567.1 418.1,1556.5 421.1,1567.1 423.4,1583.7 425.6,1571.6 430,1568.6 434.5,1564 436.8,1571.6 439.8,1583.7 442.1,1573.1 444.4,1574.6 446.6,1586 451.2,1586 454.2,1573.1 457.2,1564 460.2,1568.6 463.3,1583.7 465.5,1584.5 467.8,1574.6 470.8,1574.6 475.4,1591.3 478.4,1589.8 481.4,1589.8 485.2,1580.7 488.2,1573.1 490.5,1583.7 492.8,1597.3 495,1595.8 499.6,1589.8 502.6,1576.1 509.4,1564.8 513.2,1577.7 516.9,1591.3 520.7,1589.8 523.8,1592.8 528.3,1600.3 530.6,1604.9 532.8,1570.1 535.1,1574.6 537.4,1585.2 539.6,1589.8 542.7,1568.6 544.9,1553.5 545.7,1526.2 547.6,1519.4 549.5,1538.3 550.2,1553.5 553.2,1553.5 558.5,1568.6 562.3,1565.6 566.1,1573.1 569.1,1582.2 572.9,1588.2 577.4,1587.5 581.1,1582 587.7,1583.1 590,1579.7 593.3,1589.7 596.6,1583.1 598.8,1589.7 605.5,1580.8 611,1595.3 617.7,1585.3 623.2,1586.4 628.8,1592 633.2,1598.6 636.5,1589.7 641,1584.2 646.5,1596.4 649.8,1596.4 653.2,1585.3 656.5,1592 659.8,1592 663.1,1577.5 667.6,1574.2 673.1,1567.5 676.5,1572 679.8,1569.8 685.3,1575.3 690.9,1577.5 694.2,1570.9 698.6,1570.9 702,1580.8 706.4,1572 711.9,1575.3 717.5,1569.8 720.8,1570.9 724.1,1582 729.7,1576.4 734.1,1575.3 738.6,1570.9 744.1,1574.2 747.4,1570.9 750.7,1576.4 756.3,1570.9 762.9,1575.3 767.4,1580.8 771.8,1578.6 775.1,1582 787.3,1582 788.5,1579.9 792.8,1583.6 797.1,1584.6 801.4,1587.8 805.6,1578.2 809.9,1571.8 813.1,1575 817.4,1569.7 821.7,1563.3 824.9,1570.8 831.3,1576.1 834.5,1572.9 839.8,1572.9 844.1,1574 847.3,1579.3 852.7,1570.8 856.9,1571.8 861.2,1571.8 864.4,1577.2 869.8,1568.6 875.1,1572.9 880.4,1578.2 885.8,1581.4 890.1,1567.5 895.4,1572.9 898.6,1579.3 902.9,1565.4 907.2,1562.2 910.4,1567.5 913.6,1584.6 917.9,1584.6 922.1,1577.2 927.5,1570.8 931.7,1559 933.9,1562.2 938.2,1571.8 943.5,1566.5"/>
<polyline fill="none" stroke="#111" stroke-width="2.3" stroke-linejoin="round" points="149.4,1571.6 150.9,1576.9 153.1,1570.1 156.2,1567.1 157.7,1573.9 160,1561 163,1538.3 165.2,1547.4 168.3,1568.6 171.3,1570.1 174.3,1574.6 177.3,1578.4 180.4,1573.1 183.4,1582.2 184.9,1588.2 187.9,1588.2 189.4,1580.7 193.2,1574.6 195.5,1564.1 197.8,1568.6 200,1579.2 202.3,1574.6 204.6,1568.6 206.8,1570.1 209.1,1565.6 212.1,1539.9 213.6,1538.3 214.8,1532.3 217.4,1548.9 221.2,1550.4 223.5,1555 225.4,1564.1 226.5,1533.8 228,1517.2 229.5,1500.5 230.3,1458.2 231,1417.4 231.8,1417.4 232.5,1446.1 234,1470.3 235.6,1497.5 236.3,1518.7 237.1,1538.3 238.6,1538.3 240.9,1532.3 246.1,1532.3 249.9,1545.9 252.2,1545.9 256,1529.3 258.2,1520.9"/>
<polyline fill="none" stroke="#111" stroke-width="2.3" stroke-linejoin="round" points="296.3,1546.7 299.4,1544.4 301.6,1552 304.7,1553.5 307.7,1556.5 311.5,1561 313,1538.3 314,1511.9 316,1529.3 319.8,1530.8 322.8,1545.9 325.1,1556.5 327.3,1547.4 330.4,1540.6 333.4,1550.4 335.7,1565.6 337.9,1562.5 341,1542.9 343.2,1520.2 346.2,1521.7 347.8,1535.3 350,1547.4 352.3,1539.9 354.6,1547.4 357.6,1535.3 360.6,1535.3 363.6,1538.3 365.9,1524.7 368.2,1512.6 369.2,1477.9 370.9,1503.6 372.7,1503.6 375,1509.6 376.5,1482.4 378.8,1486.9 380.3,1474.8 382.5,1453.7 384.8,1474.8 386.3,1493 389.3,1508.1 392.4,1521.7 395.4,1532.3 399.9,1544.4 402.2,1553.5 406,1553.5 408.2,1559.5 409.8,1570.1 412,1561 415,1567.1 418.1,1556.5 421.1,1567.1 423.4,1583.7 425.6,1571.6 430,1568.6 434.5,1564 436.8,1571.6 439.8,1583.7 442.1,1573.1 444.4,1574.6 446.6,1586 451.2,1586 454.2,1573.1 457.2,1564 460.2,1568.6 463.3,1583.7 465.5,1584.5 467.8,1574.6 470.8,1574.6 475.4,1591.3 478.4,1589.8 481.4,1589.8 485.2,1580.7 488.2,1573.1 490.5,1583.7 492.8,1597.3 495,1595.8 499.6,1589.8 502.6,1576.1 509.4,1564.8 513.2,1577.7 516.9,1591.3 520.7,1589.8 523.8,1592.8 528.3,1600.3 530.6,1604.9 532.8,1570.1 535.1,1574.6 537.4,1585.2 539.6,1589.8 542.7,1568.6 544.9,1553.5 545.7,1526.2 547.6,1519.4 549.5,1538.3 550.2,1553.5 553.2,1553.5 558.5,1568.6 562.3,1565.6 566.1,1573.1 569.1,1582.2 572.9,1588.2 577.4,1587.5 581.1,1582 587.7,1583.1 590,1579.7 593.3,1589.7 596.6,1583.1 598.8,1589.7 605.5,1580.8 611,1595.3 617.7,1585.3 623.2,1586.4 628.8,1592 633.2,1598.6 636.5,1589.7 641,1584.2 646.5,1596.4 649.8,1596.4 653.2,1585.3 656.5,1592 659.8,1592 663.1,1577.5 667.6,1574.2 673.1,1567.5 676.5,1572 679.8,1569.8 685.3,1575.3 690.9,1577.5 694.2,1570.9 698.6,1570.9 702,1580.8 706.4,1572 711.9,1575.3 717.5,1569.8 720.8,1570.9 724.1,1582 729.7,1576.4 734.1,1575.3 738.6,1570.9 744.1,1574.2 747.4,1570.9 750.7,1576.4 756.3,1570.9 762.9,1575.3 767.4,1580.8 771.8,1578.6 775.1,1582 787.3,1582 788.5,1579.9 792.8,1583.6 797.1,1584.6 801.4,1587.8 805.6,1578.2 809.9,1571.8 813.1,1575 817.4,1569.7 821.7,1563.3 824.9,1570.8 831.3,1576.1 834.5,1572.9 839.8,1572.9 844.1,1574 847.3,1579.3 852.7,1570.8 856.9,1571.8 861.2,1571.8 864.4,1577.2 869.8,1568.6 875.1,1572.9 880.4,1578.2 885.8,1581.4 890.1,1567.5 895.4,1572.9 898.6,1579.3 902.9,1565.4 907.2,1562.2 910.4,1567.5 913.6,1584.6 917.9,1584.6 922.1,1577.2 927.5,1570.8 931.7,1559 933.9,1562.2 938.2,1571.8 943.5,1566.5"/>
<rect x="110.2" y="1372.2" width="873.8" height="251.2" fill="none" stroke="#333" stroke-width="1.7"/>
<line x1="101.6" y1="1418" x2="110.2" y2="1418" stroke="#333" stroke-width="1.7"/>
<text x="95.3" y="1428.6" font-size="24.6" fill="#4d4d4d" text-anchor="end">1.5</text>
<line x1="101.6" y1="1487" x2="110.2" y2="1487" stroke="#333" stroke-width="1.7"/>
<text x="95.3" y="1497.6" font-size="24.6" fill="#4d4d4d" text-anchor="end">1.0</text>
<line x1="101.6" y1="1556" x2="110.2" y2="1556" stroke="#333" stroke-width="1.7"/>
<text x="95.3" y="1566.6" font-size="24.6" fill="#4d4d4d" text-anchor="end">0.5</text>
<line x1="115.5" y1="1623.4" x2="115.5" y2="1631.7" stroke="#333" stroke-width="1.7"/>
<line x1="318.3" y1="1623.4" x2="318.3" y2="1631.7" stroke="#333" stroke-width="1.7"/>
<line x1="516.7" y1="1623.4" x2="516.7" y2="1631.7" stroke="#333" stroke-width="1.7"/>
<line x1="717.4" y1="1623.4" x2="717.4" y2="1631.7" stroke="#333" stroke-width="1.7"/>
<line x1="920.2" y1="1623.4" x2="920.2" y2="1631.7" stroke="#333" stroke-width="1.7"/>
<text x="942" y="1606.1" font-size="33" font-weight="bold" fill="#000">F</text>
<text x="115.2" y="1659.2" font-size="24.8" fill="#4d4d4d" text-anchor="middle">Oct 2017</text>
<text x="318" y="1659.2" font-size="24.8" fill="#4d4d4d" text-anchor="middle">Jan 2018</text>
<text x="516.4" y="1659.2" font-size="24.8" fill="#4d4d4d" text-anchor="middle">Apr 2018</text>
<text x="717.1" y="1659.2" font-size="24.8" fill="#4d4d4d" text-anchor="middle">Jul 2018</text>
<text x="919.9" y="1659.2" font-size="24.8" fill="#4d4d4d" text-anchor="middle">Oct 2018</text>
<text x="546.4" y="1694.6" font-size="31.5" fill="#000" text-anchor="middle">Date</text>
<text transform="translate(44.9,136.8) rotate(-90) scale(1.0000,1)" font-size="31" fill="#000" text-anchor="middle">pH</text>
<text transform="translate(30,417) rotate(-90) scale(0.8201,1)" font-size="24.5" fill="#000" text-anchor="middle">Dissolved Oxygen</text>
<text transform="translate(59.5,416.6) rotate(-90) scale(0.8151,1)" font-size="24.5" fill="#000" text-anchor="middle">(Percent Saturated)</text>
<text transform="translate(30,669.6) rotate(-90) scale(0.8210,1)" font-size="24.5" fill="#000" text-anchor="middle">Specfic Conductivity</text>
<text transform="translate(59.5,669.8) rotate(-90) scale(0.8457,1)" font-size="24.5" fill="#000" text-anchor="middle">(µs cm<tspan baseline-shift="super" font-size="14">-1</tspan>)</text>
<text transform="translate(44.8,921.9) rotate(-90) scale(0.8141,1)" font-size="24.5" fill="#000" text-anchor="middle">Temperature (C)</text>
<text transform="translate(45,1194.4) rotate(-90) scale(0.8139,1)" font-size="24.5" fill="#000" text-anchor="middle">Turbidity (FNU)</text>
<text transform="translate(41.6,1497) rotate(-90) scale(0.8214,1)" font-size="24.5" fill="#000" text-anchor="middle">River Stage (m)</text>
</svg></body></html>
